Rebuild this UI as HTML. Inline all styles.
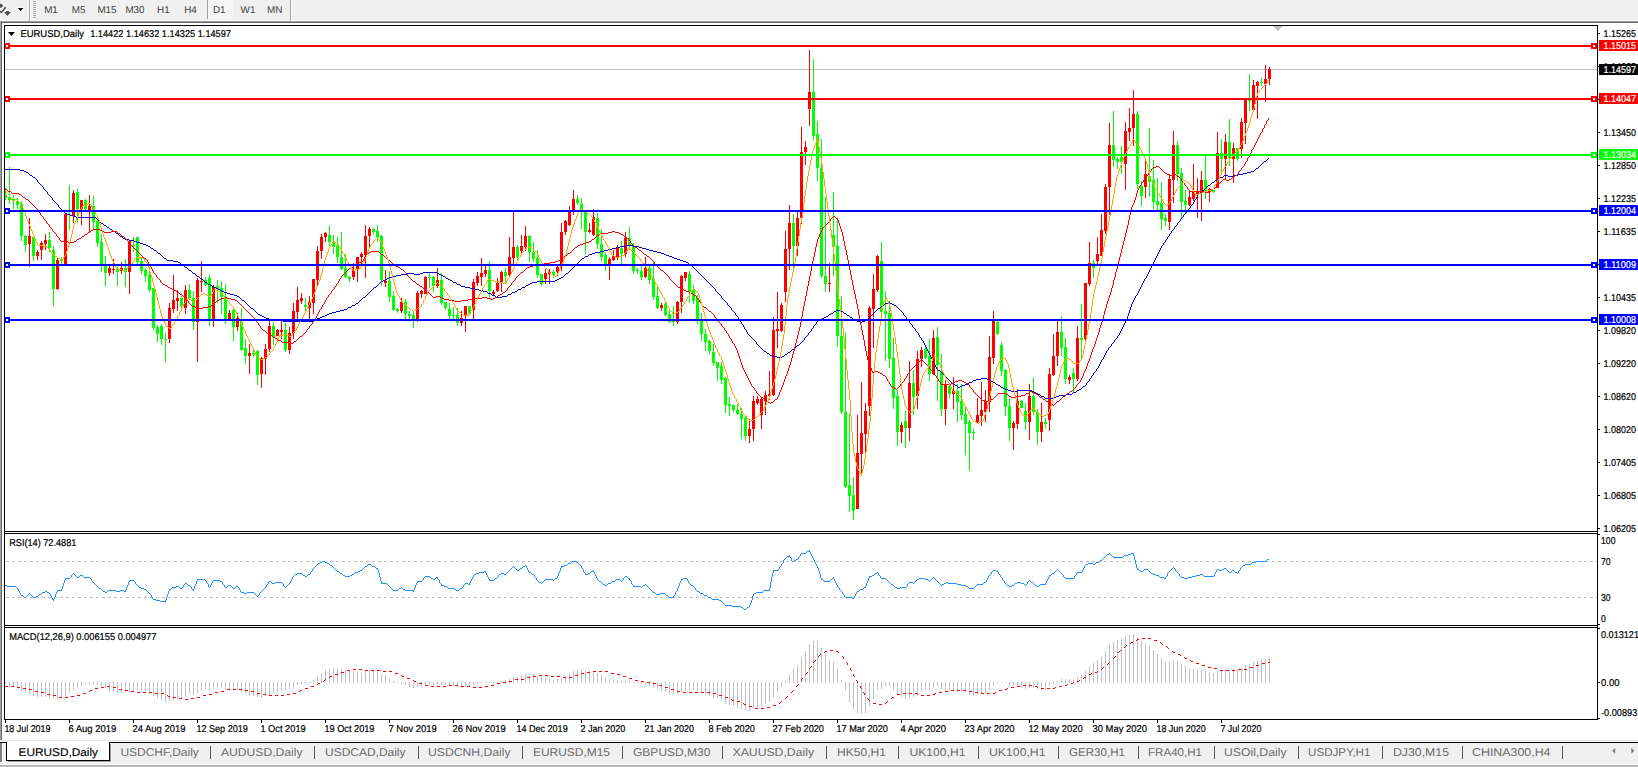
<!DOCTYPE html>
<html><head><meta charset="utf-8"><title>EURUSD,Daily</title>
<style>html,body{margin:0;padding:0;background:#fff}body{width:1638px;height:767px;position:relative;overflow:hidden;font-family:"Liberation Sans", Arial, sans-serif}text{white-space:pre;text-rendering:geometricPrecision}</style>
</head><body>
<svg width="1638" height="767" viewBox="0 0 1638 767" style="position:absolute;left:0;top:0" shape-rendering="crispEdges" font-family='"Liberation Sans", Arial, sans-serif'>
<rect x="0" y="0" width="1638" height="767" fill="#fff"/>
<rect x="0" y="0" width="1638" height="20" fill="#f0f0f0"/>
<rect x="0" y="20" width="1638" height="1" fill="#f7f7f7"/>
<rect x="0" y="21" width="1638" height="1" fill="#a0a0a0"/>
<rect x="1" y="22" width="1638" height="1" fill="#696969"/>
<rect x="0" y="22" width="1" height="719" fill="#a0a0a0"/>
<rect x="1" y="22" width="1" height="718" fill="#696969"/>
<rect x="28" y="0" width="1" height="20" fill="#f8f8f8"/><rect x="29" y="0" width="1" height="21" fill="#a0a0a0"/><rect x="30" y="0" width="1" height="20" fill="#fff"/>
<rect x="33" y="1" width="3" height="1" fill="#a8a8a8"/>
<rect x="33" y="3" width="3" height="1" fill="#a8a8a8"/>
<rect x="33" y="5" width="3" height="1" fill="#a8a8a8"/>
<rect x="33" y="7" width="3" height="1" fill="#a8a8a8"/>
<rect x="33" y="9" width="3" height="1" fill="#a8a8a8"/>
<rect x="33" y="11" width="3" height="1" fill="#a8a8a8"/>
<rect x="33" y="13" width="3" height="1" fill="#a8a8a8"/>
<rect x="33" y="15" width="3" height="1" fill="#a8a8a8"/>
<rect x="33" y="17" width="3" height="1" fill="#a8a8a8"/>
<rect x="207" y="0" width="1" height="19" fill="#a0a0a0"/>
<rect x="208" y="0" width="25" height="19" fill="#f6f6f6"/>
<rect x="290" y="0" width="1" height="21" fill="#a0a0a0"/><rect x="291" y="0" width="1" height="21" fill="#fff"/>
<path d="M17.9 8h5.4l-2.7 3z" fill="#000" stroke="#fff" stroke-width="1" paint-order="stroke" shape-rendering="auto"/>
<g fill="#4d4d4d" stroke="#fff" stroke-width="1.2" paint-order="stroke" shape-rendering="auto"><path d="M0.9 3.2L3.9 6.6H1.7V7.7H-2V6.6z"/><path d="M4 12H6.2V11H9V12H11L7.5 16z"/><path d="M5.1 6.5L6.4 7.7L1.6 13.5L-0.6 11.8L0.4 10.6L1.4 11.4z"/></g>
<rect x="5" y="69" width="1592" height="1" fill="#c0c0c0"/>
<path d="M1273 26h9.5l-4.75 5.2z" fill="#c0c0c0" shape-rendering="auto"/>
<path d="M5 188h1v12h-1zM4 195h3v3h-3zM9 167h1v37h-1zM8 197h3v3h-3zM13 195h1v14h-1zM12 199h3v2h-3zM17 198h1v11h-1zM16 201h3v4h-3zM21 201h1v40h-1zM20 204h3v32h-3zM25 235h1v17h-1zM24 236h3v9h-3zM33 237h1v24h-1zM32 237h3v19h-3zM49 232h1v20h-1zM48 240h3v8h-3zM53 246h1v60h-1zM52 250h3v39h-3zM61 257h1v7h-1zM60 259h3v2h-3zM69 185h1v45h-1zM68 210h3v2h-3zM77 189h1v34h-1zM76 192h3v17h-3zM85 199h1v11h-1zM84 200h3v9h-3zM93 196h1v34h-1zM92 206h3v16h-3zM97 220h1v27h-1zM96 221h3v22h-3zM101 234h1v38h-1zM100 242h3v22h-3zM105 256h1v30h-1zM104 266h3v7h-3zM117 266h1v20h-1zM116 269h3v3h-3zM125 259h1v28h-1zM124 268h3v4h-3zM133 237h1v15h-1zM132 245h3v1h-3zM137 237h1v27h-1zM136 237h3v25h-3zM141 258h1v16h-1zM140 261h3v10h-3zM145 268h1v14h-1zM144 270h3v6h-3zM149 267h1v25h-1zM148 275h3v15h-3zM153 288h1v42h-1zM152 288h3v40h-3zM157 325h1v17h-1zM156 327h3v7h-3zM161 324h1v21h-1zM160 326h3v13h-3zM165 333h1v29h-1zM164 339h3v1h-3zM181 296h1v12h-1zM180 298h3v8h-3zM189 284h1v16h-1zM188 290h3v8h-3zM193 291h1v39h-1zM192 298h3v24h-3zM205 277h1v9h-1zM204 280h3v5h-3zM209 274h1v52h-1zM208 278h3v41h-3zM217 280h1v23h-1zM216 286h3v3h-3zM221 281h1v33h-1zM220 288h3v9h-3zM225 284h1v40h-1zM224 298h3v22h-3zM233 307h1v34h-1zM232 310h3v17h-3zM241 308h1v43h-1zM240 322h3v28h-3zM245 339h1v25h-1zM244 348h3v8h-3zM253 350h1v7h-1zM252 353h3v2h-3zM257 350h1v35h-1zM256 351h3v24h-3zM273 322h1v23h-1zM272 326h3v11h-3zM285 323h1v29h-1zM284 330h3v20h-3zM305 298h1v15h-1zM304 305h3v2h-3zM329 226h1v20h-1zM328 235h3v7h-3zM333 235h1v19h-1zM332 242h3v5h-3zM337 237h1v26h-1zM336 246h3v11h-3zM341 232h1v38h-1zM340 257h3v12h-3zM345 254h1v24h-1zM344 268h3v9h-3zM349 276h1v6h-1zM348 277h3v2h-3zM373 228h1v7h-1zM372 229h3v3h-3zM377 225h1v17h-1zM376 231h3v6h-3zM381 235h1v51h-1zM380 236h3v44h-3zM389 271h1v31h-1zM388 281h3v16h-3zM393 291h1v20h-1zM392 296h3v14h-3zM397 308h1v5h-1zM396 309h3v2h-3zM405 299h1v20h-1zM404 302h3v12h-3zM409 311h1v11h-1zM408 314h3v2h-3zM413 312h1v16h-1zM412 315h3v4h-3zM429 272h1v16h-1zM428 277h3v1h-3zM433 276h1v16h-1zM432 277h3v9h-3zM441 273h1v32h-1zM440 280h3v23h-3zM445 302h1v8h-1zM444 302h3v6h-3zM449 303h1v16h-1zM448 309h3v7h-3zM453 307h1v12h-1zM452 315h3v1h-3zM457 308h1v18h-1zM456 315h3v8h-3zM469 306h1v8h-1zM468 306h3v8h-3zM489 261h1v38h-1zM488 270h3v21h-3zM505 268h1v15h-1zM504 272h3v4h-3zM517 245h1v16h-1zM516 247h3v10h-3zM529 235h1v27h-1zM528 236h3v16h-3zM533 242h1v20h-1zM532 252h3v7h-3zM537 250h1v28h-1zM536 258h3v17h-3zM541 274h1v12h-1zM540 274h3v10h-3zM553 270h1v8h-1zM552 272h3v3h-3zM577 195h1v10h-1zM576 199h3v4h-3zM581 198h1v31h-1zM580 204h3v6h-3zM585 212h1v42h-1zM584 212h3v20h-3zM597 213h1v36h-1zM596 218h3v26h-3zM601 229h1v32h-1zM600 244h3v13h-3zM605 252h1v19h-1zM604 255h3v11h-3zM621 241h1v23h-1zM620 248h3v6h-3zM629 227h1v23h-1zM628 238h3v8h-3zM633 243h1v31h-1zM632 246h3v25h-3zM637 268h1v6h-1zM636 270h3v1h-3zM641 266h1v14h-1zM640 271h3v6h-3zM649 266h1v18h-1zM648 268h3v12h-3zM653 262h1v38h-1zM652 279h3v18h-3zM657 287h1v22h-1zM656 296h3v12h-3zM665 302h1v14h-1zM664 304h3v11h-3zM669 310h1v13h-1zM668 314h3v8h-3zM673 306h1v20h-1zM672 321h3v1h-3zM689 271h1v32h-1zM688 274h3v18h-3zM693 285h1v19h-1zM692 289h3v12h-3zM697 295h1v29h-1zM696 298h3v21h-3zM701 313h1v28h-1zM700 319h3v15h-3zM705 329h1v22h-1zM704 334h3v8h-3zM709 340h1v14h-1zM708 341h3v10h-3zM713 344h1v22h-1zM712 352h3v11h-3zM717 362h1v19h-1zM716 362h3v6h-3zM721 362h1v22h-1zM720 366h3v14h-3zM725 377h1v36h-1zM724 378h3v27h-3zM729 397h1v19h-1zM728 404h3v2h-3zM733 405h1v7h-1zM732 405h3v5h-3zM737 404h1v11h-1zM736 410h3v4h-3zM741 408h1v31h-1zM740 414h3v5h-3zM745 416h1v25h-1zM744 418h3v18h-3zM793 214h1v54h-1zM792 223h3v23h-3zM813 59h1v81h-1zM812 92h3v44h-3zM817 121h1v60h-1zM816 134h3v34h-3zM821 139h1v139h-1zM820 168h3v108h-3zM825 197h1v95h-1zM824 276h3v8h-3zM833 192h1v84h-1zM832 235h3v12h-3zM837 220h1v127h-1zM836 246h3v90h-3zM841 296h1v118h-1zM840 336h3v76h-3zM845 332h1v156h-1zM844 412h3v75h-3zM849 414h1v98h-1zM848 485h3v11h-3zM853 477h1v43h-1zM852 495h3v16h-3zM881 242h1v71h-1zM880 261h3v51h-3zM885 291h1v70h-1zM884 311h3v3h-3zM889 301h1v67h-1zM888 313h3v46h-3zM893 338h1v71h-1zM892 358h3v40h-3zM897 390h1v56h-1zM896 396h3v36h-3zM905 411h1v37h-1zM904 421h3v7h-3zM913 370h1v45h-1zM912 383h3v14h-3zM925 347h1v12h-1zM924 349h3v9h-3zM929 339h1v42h-1zM928 356h3v18h-3zM937 327h1v74h-1zM936 337h3v28h-3zM941 354h1v62h-1zM940 372h3v37h-3zM949 384h1v14h-1zM948 386h3v8h-3zM957 384h1v38h-1zM956 391h3v11h-3zM961 384h1v36h-1zM960 401h3v14h-3zM965 406h1v49h-1zM964 414h3v10h-3zM969 420h1v51h-1zM968 422h3v11h-3zM973 429h1v11h-1zM972 432h3v1h-3zM997 321h1v14h-1zM996 322h3v12h-3zM1001 342h1v34h-1zM1000 345h3v26h-3zM1005 369h1v47h-1zM1004 370h3v37h-3zM1009 399h1v42h-1zM1008 406h3v22h-3zM1021 400h1v8h-1zM1020 401h3v7h-3zM1025 403h1v27h-1zM1024 411h3v11h-3zM1033 378h1v37h-1zM1032 396h3v16h-3zM1037 409h1v36h-1zM1036 412h3v20h-3zM1045 418h1v11h-1zM1044 422h3v2h-3zM1061 316h1v40h-1zM1060 332h3v16h-3zM1065 338h1v46h-1zM1064 347h3v32h-3zM1073 368h1v24h-1zM1072 373h3v6h-3zM1081 304h1v54h-1zM1080 338h3v2h-3zM1093 260h1v18h-1zM1092 263h3v5h-3zM1113 111h1v56h-1zM1112 145h3v15h-3zM1117 157h1v12h-1zM1116 159h3v3h-3zM1121 146h1v28h-1zM1120 157h3v5h-3zM1137 111h1v78h-1zM1136 114h3v70h-3zM1141 181h1v25h-1zM1140 186h3v10h-3zM1149 128h1v69h-1zM1148 176h3v6h-3zM1153 160h1v49h-1zM1152 180h3v22h-3zM1157 178h1v32h-1zM1156 201h3v4h-3zM1161 182h1v48h-1zM1160 203h3v16h-3zM1165 214h1v12h-1zM1164 218h3v3h-3zM1177 141h1v40h-1zM1176 145h3v29h-3zM1181 168h1v50h-1zM1180 173h3v29h-3zM1185 190h1v24h-1zM1184 201h3v4h-3zM1205 156h1v43h-1zM1204 180h3v11h-3zM1213 190h1v3h-1zM1212 190h3v2h-3zM1221 139h1v35h-1zM1220 153h3v6h-3zM1229 119h1v47h-1zM1228 142h3v16h-3zM1237 148h1v13h-1zM1236 148h3v11h-3zM1249 74h1v37h-1zM1248 100h3v1h-3zM1261 78h1v8h-1zM1260 82h3v1h-3z" fill="#00ff00"/>
<path d="M29 218h1v49h-1zM28 236h3v8h-3zM37 250h1v10h-1zM36 252h3v4h-3zM41 241h1v19h-1zM40 243h3v7h-3zM45 234h1v16h-1zM44 240h3v4h-3zM57 258h1v32h-1zM56 260h3v29h-3zM65 214h1v50h-1zM64 214h3v50h-3zM73 190h1v33h-1zM72 193h3v23h-3zM81 200h1v25h-1zM80 200h3v9h-3zM89 195h1v37h-1zM88 206h3v4h-3zM109 266h1v10h-1zM108 268h3v5h-3zM113 259h1v15h-1zM112 269h3v1h-3zM121 262h1v12h-1zM120 268h3v3h-3zM129 241h1v53h-1zM128 241h3v31h-3zM169 303h1v40h-1zM168 308h3v31h-3zM173 275h1v38h-1zM172 300h3v9h-3zM177 290h1v21h-1zM176 298h3v3h-3zM185 285h1v29h-1zM184 290h3v18h-3zM197 278h1v84h-1zM196 280h3v42h-3zM201 261h1v31h-1zM200 281h3v1h-3zM213 285h1v42h-1zM212 287h3v32h-3zM229 310h1v11h-1zM228 313h3v7h-3zM237 313h1v18h-1zM236 318h3v9h-3zM249 344h1v30h-1zM248 353h3v3h-3zM261 357h1v31h-1zM260 358h3v16h-3zM265 344h1v31h-1zM264 349h3v10h-3zM269 321h1v31h-1zM268 326h3v23h-3zM277 329h1v7h-1zM276 330h3v6h-3zM281 321h1v18h-1zM280 330h3v2h-3zM289 327h1v27h-1zM288 333h3v17h-3zM293 303h1v36h-1zM292 311h3v22h-3zM297 287h1v34h-1zM296 300h3v12h-3zM301 293h1v11h-1zM300 298h3v3h-3zM309 296h1v26h-1zM308 302h3v6h-3zM313 279h1v35h-1zM312 279h3v24h-3zM317 246h1v40h-1zM316 251h3v29h-3zM321 234h1v25h-1zM320 237h3v14h-3zM325 232h1v10h-1zM324 233h3v4h-3zM353 263h1v17h-1zM352 270h3v7h-3zM357 257h1v25h-1zM356 257h3v13h-3zM361 252h1v14h-1zM360 254h3v3h-3zM365 225h1v53h-1zM364 236h3v19h-3zM369 227h1v22h-1zM368 229h3v7h-3zM385 270h1v17h-1zM384 281h3v2h-3zM401 298h1v15h-1zM400 302h3v9h-3zM417 291h1v31h-1zM416 293h3v26h-3zM421 290h1v8h-1zM420 291h3v3h-3zM425 276h1v18h-1zM424 277h3v17h-3zM437 268h1v20h-1zM436 280h3v6h-3zM461 311h1v15h-1zM460 318h3v5h-3zM465 306h1v26h-1zM464 306h3v10h-3zM473 279h1v40h-1zM472 282h3v28h-3zM477 272h1v14h-1zM476 276h3v7h-3zM481 258h1v28h-1zM480 273h3v4h-3zM485 266h1v11h-1zM484 270h3v4h-3zM493 290h1v5h-1zM492 292h3v2h-3zM497 278h1v14h-1zM496 283h3v8h-3zM501 271h1v21h-1zM500 272h3v11h-3zM509 237h1v39h-1zM508 257h3v18h-3zM513 212h1v52h-1zM512 247h3v11h-3zM521 235h1v20h-1zM520 246h3v5h-3zM525 226h1v25h-1zM524 236h3v11h-3zM545 269h1v15h-1zM544 273h3v6h-3zM549 269h1v15h-1zM548 272h3v2h-3zM557 266h1v10h-1zM556 267h3v5h-3zM561 223h1v48h-1zM560 232h3v34h-3zM565 220h1v15h-1zM564 221h3v11h-3zM569 206h1v20h-1zM568 212h3v13h-3zM573 190h1v25h-1zM572 199h3v12h-3zM589 223h1v10h-1zM588 230h3v2h-3zM593 209h1v27h-1zM592 217h3v18h-3zM609 257h1v23h-1zM608 259h3v5h-3zM613 250h1v11h-1zM612 256h3v4h-3zM617 245h1v15h-1zM616 248h3v9h-3zM625 232h1v25h-1zM624 238h3v16h-3zM645 257h1v21h-1zM644 268h3v9h-3zM661 303h1v8h-1zM660 305h3v3h-3zM677 301h1v23h-1zM676 302h3v20h-3zM681 275h1v38h-1zM680 276h3v26h-3zM685 272h1v9h-1zM684 272h3v6h-3zM749 419h1v24h-1zM748 429h3v7h-3zM753 396h1v45h-1zM752 401h3v28h-3zM757 396h1v9h-1zM756 399h3v4h-3zM761 397h1v32h-1zM760 399h3v16h-3zM765 391h1v24h-1zM764 395h3v6h-3zM769 371h1v29h-1zM768 394h3v2h-3zM773 317h1v79h-1zM772 330h3v65h-3zM777 292h1v56h-1zM776 329h3v2h-3zM781 303h1v29h-1zM780 305h3v26h-3zM785 231h1v71h-1zM784 249h3v43h-3zM789 205h1v65h-1zM788 223h3v26h-3zM797 212h1v44h-1zM796 218h3v28h-3zM801 127h1v97h-1zM800 152h3v66h-3zM805 141h1v24h-1zM804 147h3v5h-3zM809 50h1v76h-1zM808 92h3v17h-3zM829 263h1v29h-1zM828 283h3v1h-3zM857 415h1v94h-1zM856 453h3v56h-3zM861 382h1v94h-1zM860 433h3v21h-3zM865 403h1v53h-1zM864 411h3v23h-3zM869 306h1v110h-1zM868 308h3v98h-3zM873 274h1v74h-1zM872 289h3v20h-3zM877 255h1v37h-1zM876 256h3v34h-3zM901 422h1v21h-1zM900 425h3v7h-3zM909 361h1v80h-1zM908 383h3v45h-3zM917 351h1v58h-1zM916 359h3v37h-3zM921 347h1v20h-1zM920 350h3v9h-3zM933 330h1v45h-1zM932 338h3v36h-3zM945 380h1v45h-1zM944 385h3v24h-3zM953 377h1v32h-1zM952 391h3v3h-3zM977 398h1v26h-1zM976 415h3v7h-3zM981 382h1v44h-1zM980 410h3v6h-3zM985 390h1v32h-1zM984 401h3v11h-3zM989 336h1v76h-1zM988 357h3v45h-3zM993 311h1v53h-1zM992 321h3v37h-3zM1013 421h1v29h-1zM1012 423h3v5h-3zM1017 389h1v40h-1zM1016 401h3v23h-3zM1029 384h1v56h-1zM1028 396h3v26h-3zM1041 403h1v39h-1zM1040 422h3v10h-3zM1049 368h1v63h-1zM1048 374h3v46h-3zM1053 334h1v42h-1zM1052 356h3v19h-3zM1057 321h1v45h-1zM1056 332h3v24h-3zM1069 375h1v9h-1zM1068 377h3v3h-3zM1077 326h1v55h-1zM1076 338h3v41h-3zM1085 283h1v57h-1zM1084 283h3v56h-3zM1089 242h1v44h-1zM1088 263h3v21h-3zM1097 237h1v29h-1zM1096 254h3v7h-3zM1101 214h1v42h-1zM1100 230h3v26h-3zM1105 184h1v50h-1zM1104 187h3v44h-3zM1109 123h1v92h-1zM1108 145h3v42h-3zM1125 122h1v68h-1zM1124 131h3v33h-3zM1129 108h1v33h-1zM1128 128h3v4h-3zM1133 90h1v56h-1zM1132 114h3v14h-3zM1145 160h1v38h-1zM1144 174h3v13h-3zM1169 174h1v56h-1zM1168 179h3v43h-3zM1173 131h1v72h-1zM1172 145h3v35h-3zM1189 191h1v15h-1zM1188 197h3v8h-3zM1193 164h1v37h-1zM1192 191h3v8h-3zM1197 178h1v40h-1zM1196 191h3v3h-3zM1201 171h1v50h-1zM1200 180h3v12h-3zM1209 188h1v14h-1zM1208 189h3v3h-3zM1217 132h1v56h-1zM1216 153h3v35h-3zM1225 134h1v45h-1zM1224 142h3v17h-3zM1233 143h1v40h-1zM1232 148h3v11h-3zM1241 118h1v40h-1zM1240 122h3v27h-3zM1245 99h1v45h-1zM1244 99h3v24h-3zM1253 80h1v30h-1zM1252 85h3v25h-3zM1257 81h1v38h-1zM1256 82h3v4h-3zM1265 65h1v37h-1zM1264 79h3v5h-3zM1269 67h1v18h-1zM1268 69h3v10h-3z" fill="#ff0000"/>
<path d="M1155 258v2h1v-2zM1187 210v2h1v-2zM1127 316v3h1v-3zM906 317v2h1v-2zM924 343v2h1v-2zM1086 383v2h1v-2zM1131 304v3h1v-3zM58 205v2h1v-2zM935 365v2h1v-2zM1121 329v2h1v-2zM43 187v2h1v-2zM1130 307v3h1v-3zM1169 234v2h1v-2zM727 303v2h1v-2zM741 322v2h1v-2zM912 325v2h1v-2zM1105 353v2h1v-2zM1120 331v2h1v-2zM933 361v2h1v-2zM934 363v2h1v-2zM1128 313v3h1v-3zM1140 287v2h1v-2zM1108 348v2h1v-2zM1104 355v2h1v-2zM808 333v2h1v-2zM1100 362v2h1v-2zM1139 289v2h1v-2zM1183 215v2h1v-2zM743 325v2h1v-2zM1152 264v2h1v-2zM1135 296v2h1v-2zM1180 219v2h1v-2zM1103 357v2h1v-2zM932 359v2h1v-2zM1171 231v2h1v-2zM721 296v2h1v-2zM1099 364v2h1v-2zM1151 266v2h1v-2zM1134 298v2h1v-2zM1174 227v2h1v-2zM1147 274v2h1v-2zM47 192v2h1v-2zM731 308v2h1v-2zM1098 366v2h1v-2zM756 342v2h1v-2zM1089 379v2h1v-2zM1197 195v2h1v-2zM926 347v2h1v-2zM813 326v2h1v-2zM1156 256v2h1v-2zM915 329v2h1v-2zM918 333v2h1v-2zM1196 197v2h1v-2zM1123 325v2h1v-2zM925 345v2h1v-2zM1163 243v2h1v-2zM1122 327v2h1v-2zM1159 250v2h1v-2zM1114 340v2h1v-2zM1117 336v2h1v-2zM1129 310v3h1v-3zM744 327v2h1v-2zM52 198v2h1v-2zM936 367v2h1v-2zM928 351v2h1v-2zM1119 333v2h1v-2zM746 330v2h1v-2zM1146 276v2h1v-2zM1142 283v2h1v-2zM1138 291v2h1v-2zM927 349v2h1v-2zM930 355v2h1v-2zM1141 285v2h1v-2zM1137 293v2h1v-2zM919 335v2h1v-2zM1133 300v2h1v-2zM37 180v2h1v-2zM1132 302v2h1v-2zM1167 237v2h1v-2zM921 338v2h1v-2zM1106 351v2h1v-2zM1190 206v2h1v-2zM1158 252v2h1v-2zM1154 260v2h1v-2zM735 313v2h1v-2zM738 317v2h1v-2zM1126 319v2h1v-2zM909 321v2h1v-2zM923 341v2h1v-2zM1101 360v2h1v-2zM1153 262v2h1v-2zM1149 270v2h1v-2zM1093 373v2h1v-2zM1177 223v2h1v-2zM1096 369v2h1v-2zM1148 272v2h1v-2zM929 353v2h1v-2zM1144 279v2h1v-2zM1111 344v2h1v-2zM903 313v2h1v-2zM747 332v2h1v-2zM811 329v2h1v-2zM1194 200v2h1v-2zM931 357v2h1v-2zM1150 268v2h1v-2zM1193 202v2h1v-2zM715 289v2h1v-2zM1124 323v2h1v-2zM1161 246v2h1v-2zM816 322v2h1v-2zM1160 248v2h1v-2zM1091 376v2h1v-2zM804 338v2h1v-2zM739 319v2h1v-2zM1125 321v2h1v-2zM1165 240v2h1v-2zM1157 254v2h1v-2zM1143 281v2h1v-2zM30 175h2v1h-2zM1224 175h4v1h-4zM1233 175h5v1h-5zM957 386h1v1h-1zM960 386h2v1h-2zM1000 386h1v1h-1zM1083 386h2v1h-2zM242 300h2v1h-2zM360 300h1v1h-1zM724 300h1v1h-1zM958 387h2v1h-2zM1001 387h2v1h-2zM1082 387h1v1h-1zM227 293h3v1h-3zM368 293h1v1h-1zM488 293h3v1h-3zM511 293h1v1h-1zM718 293h1v1h-1zM5 169h15v1h-15zM1255 169h1v1h-1zM244 301h1v1h-1zM359 301h1v1h-1zM725 301h1v1h-1zM254 310h1v1h-1zM340 310h4v1h-4zM732 310h1v1h-1zM836 310h4v1h-4zM876 310h1v1h-1zM900 310h1v1h-1zM246 303h1v1h-1zM356 303h2v1h-2zM885 303h3v1h-3zM890 303h2v1h-2zM755 341h1v1h-1zM802 341h1v1h-1zM210 285h2v1h-2zM377 285h1v1h-1zM460 285h1v1h-1zM526 285h2v1h-2zM711 285h1v1h-1zM777 357h5v1h-5zM214 287h2v1h-2zM374 287h2v1h-2zM465 287h5v1h-5zM522 287h3v1h-3zM713 287h1v1h-1zM220 290h2v1h-2zM371 290h1v1h-1zM479 290h4v1h-4zM517 290h1v1h-1zM949 380h1v1h-1zM973 380h3v1h-3zM989 380h2v1h-2zM1008 390h3v1h-3zM1017 390h15v1h-15zM1077 390h2v1h-2zM204 281h1v1h-1zM381 281h2v1h-2zM452 281h1v1h-1zM537 281h18v1h-18zM707 281h1v1h-1zM193 273h2v1h-2zM407 273h7v1h-7zM420 273h3v1h-3zM437 273h2v1h-2zM566 273h2v1h-2zM699 273h1v1h-1zM32 176h1v1h-1zM1223 176h1v1h-1zM1228 176h5v1h-5zM269 319h4v1h-4zM315 319h2v1h-2zM820 319h2v1h-2zM853 319h3v1h-3zM867 319h1v1h-1zM907 319h1v1h-1zM208 284h2v1h-2zM378 284h1v1h-1zM457 284h3v1h-3zM528 284h2v1h-2zM710 284h1v1h-1zM158 253h2v1h-2zM592 253h3v1h-3zM661 253h3v1h-3zM40 184h1v1h-1zM1210 184h1v1h-1zM106 226h1v1h-1zM1175 226h1v1h-1zM151 248h2v1h-2zM612 248h4v1h-4zM642 248h4v1h-4zM273 320h10v1h-10zM313 320h2v1h-2zM818 320h2v1h-2zM856 320h1v1h-1zM865 320h2v1h-2zM908 320h1v1h-1zM192 272h1v1h-1zM423 272h14v1h-14zM568 272h1v1h-1zM698 272h1v1h-1zM222 291h2v1h-2zM370 291h1v1h-1zM483 291h4v1h-4zM515 291h2v1h-2zM716 291h1v1h-1zM952 383h2v1h-2zM968 383h1v1h-1zM995 383h1v1h-1zM197 276h2v1h-2zM392 276h4v1h-4zM443 276h2v1h-2zM563 276h1v1h-1zM702 276h1v1h-1zM195 274h1v1h-1zM401 274h6v1h-6zM414 274h6v1h-6zM439 274h2v1h-2zM565 274h1v1h-1zM700 274h1v1h-1zM163 257h1v1h-1zM584 257h1v1h-1zM672 257h2v1h-2zM241 299h1v1h-1zM361 299h1v1h-1zM723 299h1v1h-1zM1045 398h9v1h-9zM125 239h4v1h-4zM1166 239h1v1h-1zM110 229h2v1h-2zM1173 229h1v1h-1zM283 321h30v1h-30zM740 321h1v1h-1zM817 321h1v1h-1zM857 321h3v1h-3zM862 321h3v1h-3zM153 249h1v1h-1zM608 249h4v1h-4zM646 249h3v1h-3zM257 313h1v1h-1zM329 313h3v1h-3zM831 313h2v1h-2zM844 313h2v1h-2zM873 313h1v1h-1zM760 347h1v1h-1zM795 347h1v1h-1zM1109 347h1v1h-1zM941 372h1v1h-1zM1094 372h1v1h-1zM207 283h1v1h-1zM379 283h1v1h-1zM456 283h1v1h-1zM530 283h2v1h-2zM709 283h1v1h-1zM154 250h2v1h-2zM604 250h4v1h-4zM649 250h4v1h-4zM1038 394h2v1h-2zM1066 394h6v1h-6zM164 258h2v1h-2zM582 258h2v1h-2zM674 258h3v1h-3zM200 278h1v1h-1zM387 278h2v1h-2zM446 278h2v1h-2zM559 278h2v1h-2zM704 278h1v1h-1zM1145 278h1v1h-1zM166 259h1v1h-1zM581 259h1v1h-1zM677 259h3v1h-3zM264 317h2v1h-2zM320 317h2v1h-2zM824 317h2v1h-2zM850 317h2v1h-2zM869 317h1v1h-1zM70 215h3v1h-3zM146 245h2v1h-2zM626 245h7v1h-7zM1162 245h1v1h-1zM148 246h2v1h-2zM620 246h6v1h-6zM633 246h6v1h-6zM181 264h1v1h-1zM576 264h1v1h-1zM689 264h2v1h-2zM764 351h2v1h-2zM790 351h1v1h-1zM167 260h6v1h-6zM580 260h1v1h-1zM680 260h3v1h-3zM955 385h2v1h-2zM962 385h3v1h-3zM998 385h2v1h-2zM1085 385h1v1h-1zM205 282h2v1h-2zM380 282h1v1h-1zM453 282h3v1h-3zM532 282h5v1h-5zM708 282h1v1h-1zM1044 397h1v1h-1zM1054 397h2v1h-2zM1263 162h1v1h-1zM173 261h5v1h-5zM579 261h1v1h-1zM683 261h3v1h-3zM234 295h3v1h-3zM366 295h1v1h-1zM492 295h3v1h-3zM507 295h1v1h-1zM720 295h1v1h-1zM1136 295h1v1h-1zM237 296h2v1h-2zM365 296h1v1h-1zM495 296h1v1h-1zM502 296h5v1h-5zM248 305h1v1h-1zM352 305h3v1h-3zM728 305h1v1h-1zM882 305h2v1h-2zM894 305h2v1h-2zM948 379h1v1h-1zM976 379h5v1h-5zM987 379h2v1h-2zM752 338h1v1h-1zM1116 338h1v1h-1zM218 289h2v1h-2zM372 289h1v1h-1zM475 289h4v1h-4zM518 289h3v1h-3zM772 356h5v1h-5zM782 356h2v1h-2zM758 345h1v1h-1zM797 345h2v1h-2zM256 312h1v1h-1zM332 312h4v1h-4zM734 312h1v1h-1zM833 312h1v1h-1zM843 312h1v1h-1zM874 312h1v1h-1zM902 312h1v1h-1zM767 353h2v1h-2zM787 353h1v1h-1zM26 172h2v1h-2zM1247 172h4v1h-4zM761 348h1v1h-1zM794 348h1v1h-1zM161 255h1v1h-1zM588 255h1v1h-1zM666 255h3v1h-3zM189 270h2v1h-2zM570 270h1v1h-1zM696 270h1v1h-1zM250 307h1v1h-1zM348 307h3v1h-3zM730 307h1v1h-1zM880 307h1v1h-1zM897 307h1v1h-1zM162 256h1v1h-1zM585 256h3v1h-3zM669 256h3v1h-3zM60 208h1v1h-1zM1189 208h1v1h-1zM191 271h1v1h-1zM569 271h1v1h-1zM697 271h1v1h-1zM150 247h1v1h-1zM616 247h4v1h-4zM639 247h3v1h-3zM156 251h1v1h-1zM600 251h4v1h-4zM653 251h4v1h-4zM762 349h1v1h-1zM792 349h2v1h-2zM249 306h1v1h-1zM351 306h1v1h-1zM729 306h1v1h-1zM881 306h1v1h-1zM896 306h1v1h-1zM76 217h20v1h-20zM1182 217h1v1h-1zM41 185h1v1h-1zM1208 185h2v1h-2zM201 279h2v1h-2zM385 279h2v1h-2zM448 279h2v1h-2zM557 279h2v1h-2zM705 279h1v1h-1zM157 252h1v1h-1zM595 252h5v1h-5zM657 252h4v1h-4zM45 190h1v1h-1zM1202 190h2v1h-2zM134 241h3v1h-3zM754 340h1v1h-1zM803 340h1v1h-1zM922 340h1v1h-1zM910 323h1v1h-1zM212 286h2v1h-2zM376 286h1v1h-1zM461 286h4v1h-4zM525 286h1v1h-1zM712 286h1v1h-1zM1011 391h6v1h-6zM1032 391h2v1h-2zM1076 391h1v1h-1zM860 322h2v1h-2zM1191 205h1v1h-1zM143 244h3v1h-3zM64 212h1v1h-1zM1186 212h1v1h-1zM230 294h4v1h-4zM367 294h1v1h-1zM491 294h1v1h-1zM508 294h3v1h-3zM719 294h1v1h-1zM137 242h3v1h-3zM1164 242h1v1h-1zM199 277h1v1h-1zM389 277h3v1h-3zM445 277h1v1h-1zM561 277h2v1h-2zM703 277h1v1h-1zM1256 168h2v1h-2zM216 288h2v1h-2zM373 288h1v1h-1zM470 288h5v1h-5zM521 288h1v1h-1zM714 288h1v1h-1zM940 371h1v1h-1zM1095 371h1v1h-1zM947 378h1v1h-1zM981 378h6v1h-6zM1090 378h1v1h-1zM255 311h1v1h-1zM336 311h4v1h-4zM733 311h1v1h-1zM834 311h2v1h-2zM840 311h3v1h-3zM875 311h1v1h-1zM901 311h1v1h-1zM185 267h2v1h-2zM573 267h1v1h-1zM693 267h1v1h-1zM951 382h1v1h-1zM969 382h3v1h-3zM993 382h2v1h-2zM1087 382h1v1h-1zM258 314h2v1h-2zM327 314h2v1h-2zM829 314h2v1h-2zM846 314h1v1h-1zM872 314h1v1h-1zM266 318h3v1h-3zM317 318h3v1h-3zM822 318h2v1h-2zM852 318h1v1h-1zM868 318h1v1h-1zM33 177h2v1h-2zM1220 177h3v1h-3zM810 331h1v1h-1zM916 331h1v1h-1zM36 179h1v1h-1zM1217 179h2v1h-2zM28 173h1v1h-1zM1243 173h4v1h-4zM1262 163h1v1h-1zM129 240h5v1h-5zM203 280h1v1h-1zM383 280h2v1h-2zM450 280h2v1h-2zM555 280h2v1h-2zM706 280h1v1h-1zM954 384h1v1h-1zM965 384h3v1h-3zM996 384h2v1h-2zM67 214h3v1h-3zM1184 214h1v1h-1zM46 191h1v1h-1zM1201 191h1v1h-1zM160 254h1v1h-1zM589 254h3v1h-3zM664 254h2v1h-2zM1003 388h2v1h-2zM1081 388h1v1h-1zM1005 389h3v1h-3zM1079 389h2v1h-2zM44 189h1v1h-1zM1204 189h1v1h-1zM239 297h1v1h-1zM363 297h2v1h-2zM496 297h6v1h-6zM251 308h2v1h-2zM347 308h1v1h-1zM878 308h2v1h-2zM898 308h1v1h-1zM247 304h1v1h-1zM355 304h1v1h-1zM884 304h1v1h-1zM892 304h2v1h-2zM240 298h1v1h-1zM362 298h1v1h-1zM722 298h1v1h-1zM812 328h1v1h-1zM914 328h1v1h-1zM759 346h1v1h-1zM796 346h1v1h-1zM1110 346h1v1h-1zM770 355h2v1h-2zM784 355h1v1h-1zM260 315h2v1h-2zM325 315h2v1h-2zM736 315h1v1h-1zM828 315h1v1h-1zM847 315h2v1h-2zM871 315h1v1h-1zM904 315h1v1h-1zM39 183h1v1h-1zM1211 183h1v1h-1zM104 225h2v1h-2zM1176 225h1v1h-1zM180 263h1v1h-1zM577 263h1v1h-1zM688 263h1v1h-1zM950 381h1v1h-1zM972 381h1v1h-1zM991 381h2v1h-2zM1088 381h1v1h-1zM749 335h1v1h-1zM807 335h1v1h-1zM1118 335h1v1h-1zM245 302h1v1h-1zM358 302h1v1h-1zM726 302h1v1h-1zM888 302h2v1h-2zM1034 392h2v1h-2zM1073 392h3v1h-3zM1040 395h1v1h-1zM1059 395h7v1h-7zM224 292h3v1h-3zM369 292h1v1h-1zM487 292h1v1h-1zM512 292h3v1h-3zM717 292h1v1h-1zM188 269h1v1h-1zM571 269h1v1h-1zM695 269h1v1h-1zM116 233h2v1h-2zM1170 233h1v1h-1zM262 316h2v1h-2zM322 316h3v1h-3zM737 316h1v1h-1zM826 316h2v1h-2zM849 316h1v1h-1zM870 316h1v1h-1zM905 316h1v1h-1zM1261 164h1v1h-1zM196 275h1v1h-1zM396 275h5v1h-5zM441 275h2v1h-2zM564 275h1v1h-1zM701 275h1v1h-1zM65 213h2v1h-2zM1185 213h1v1h-1zM140 243h3v1h-3zM942 373h1v1h-1zM769 354h1v1h-1zM785 354h2v1h-2zM49 195h1v1h-1zM50 196h1v1h-1zM1267 159h1v1h-1zM937 369h1v1h-1zM750 336h1v1h-1zM806 336h1v1h-1zM801 342h1v1h-1zM1113 342h1v1h-1zM184 266h1v1h-1zM574 266h1v1h-1zM692 266h1v1h-1zM57 204h1v1h-1zM1192 204h1v1h-1zM253 309h1v1h-1zM344 309h3v1h-3zM877 309h1v1h-1zM899 309h1v1h-1zM178 262h2v1h-2zM578 262h1v1h-1zM686 262h2v1h-2zM29 174h1v1h-1zM1238 174h5v1h-5zM120 236h2v1h-2zM1168 236h1v1h-1zM24 171h2v1h-2zM1251 171h3v1h-3zM1260 165h1v1h-1zM742 324h1v1h-1zM815 324h1v1h-1zM911 324h1v1h-1zM913 327h1v1h-1zM763 350h1v1h-1zM791 350h1v1h-1zM1107 350h1v1h-1zM54 201h1v1h-1zM944 375h1v1h-1zM1092 375h1v1h-1zM1041 396h3v1h-3zM1056 396h3v1h-3zM751 337h1v1h-1zM805 337h1v1h-1zM920 337h1v1h-1zM1200 192h1v1h-1zM113 231h2v1h-2zM800 343h1v1h-1zM1112 343h1v1h-1zM1036 393h2v1h-2zM1072 393h1v1h-1zM42 186h1v1h-1zM1207 186h1v1h-1zM20 170h4v1h-4zM1254 170h1v1h-1zM56 203h1v1h-1zM107 227h2v1h-2zM99 221h1v1h-1zM1179 221h1v1h-1zM1215 180h2v1h-2zM187 268h1v1h-1zM572 268h1v1h-1zM694 268h1v1h-1zM48 194h1v1h-1zM1198 194h1v1h-1zM809 332h1v1h-1zM917 332h1v1h-1zM1268 158h1v1h-1zM1259 166h1v1h-1zM1199 193h1v1h-1zM100 222h1v1h-1zM1178 222h1v1h-1zM73 216h3v1h-3zM766 352h1v1h-1zM788 352h2v1h-2zM745 329h1v1h-1zM112 230h1v1h-1zM1172 230h1v1h-1zM53 200h1v1h-1zM115 232h1v1h-1zM97 219h1v1h-1zM1214 181h1v1h-1zM943 374h1v1h-1zM938 370h2v1h-2zM55 202h1v1h-1zM814 325h1v1h-1zM35 178h1v1h-1zM1219 178h1v1h-1zM945 376h1v1h-1zM946 377h1v1h-1zM748 334h1v1h-1zM61 209h1v1h-1zM1188 209h1v1h-1zM182 265h2v1h-2zM575 265h1v1h-1zM691 265h1v1h-1zM38 182h1v1h-1zM1212 182h2v1h-2zM63 211h1v1h-1zM123 238h2v1h-2zM1264 161h2v1h-2zM753 339h1v1h-1zM1115 339h1v1h-1zM118 234h1v1h-1zM119 235h1v1h-1zM757 344h1v1h-1zM799 344h1v1h-1zM1102 359h1v1h-1zM1206 187h1v1h-1zM109 228h1v1h-1zM1097 368h1v1h-1zM101 223h2v1h-2zM96 218h1v1h-1zM1181 218h1v1h-1zM1258 167h1v1h-1zM59 207h1v1h-1zM1195 199h1v1h-1zM51 197h1v1h-1zM1205 188h1v1h-1zM62 210h1v1h-1zM103 224h1v1h-1zM122 237h1v1h-1zM98 220h1v1h-1zM1266 160h1v1h-1z" fill="#0000cd"/>
<path d="M844 241v5h1v-5zM813 257v4h1v-4zM731 339v2h1v-2zM728 334v2h1v-2zM792 354v4h1v-4zM1125 233v4h1v-4zM1100 325v3h1v-3zM364 257v2h1v-2zM1116 269v3h1v-3zM817 239v4h1v-4zM837 218v2h1v-2zM779 392v3h1v-3zM1187 187v2h1v-2zM850 270v5h1v-5zM1257 139v2h1v-2zM860 320v5h1v-5zM1087 363v3h1v-3zM1129 215v5h1v-5zM1120 253v4h1v-4zM807 286v5h1v-5zM907 374v2h1v-2zM737 350v3h1v-3zM312 322v2h1v-2zM1124 237v4h1v-4zM866 351v5h1v-5zM1115 272v5h1v-5zM1099 328v4h1v-4zM515 278v2h1v-2zM900 384v2h1v-2zM803 306v5h1v-5zM336 284v2h1v-2zM46 221v2h1v-2zM843 236v5h1v-5zM853 285v5h1v-5zM726 331v2h1v-2zM729 336v2h1v-2zM863 335v5h1v-5zM1110 292v3h1v-3zM1090 355v3h1v-3zM933 372v2h1v-2zM811 266v5h1v-5zM1107 301v3h1v-3zM1098 332v3h1v-3zM859 315v5h1v-5zM743 368v2h1v-2zM790 362v3h1v-3zM869 363v3h1v-3zM802 311v6h1v-6zM407 274v2h1v-2zM815 247v5h1v-5zM794 347v4h1v-4zM1127 225v4h1v-4zM1102 319v3h1v-3zM845 246v4h1v-4zM805 296v5h1v-5zM865 346v5h1v-5zM856 299v5h1v-5zM780 390v2h1v-2zM858 309v6h1v-6zM1089 358v3h1v-3zM797 335v4h1v-4zM363 259v2h1v-2zM789 365v3h1v-3zM1096 338v3h1v-3zM1122 245v4h1v-4zM37 209v2h1v-2zM160 280v2h1v-2zM1113 280v5h1v-5zM654 262v2h1v-2zM814 252v5h1v-5zM842 232v4h1v-4zM801 317v5h1v-5zM1135 197v3h1v-3zM906 376v2h1v-2zM1101 322v3h1v-3zM1117 264v5h1v-5zM738 353v3h1v-3zM936 376v2h1v-2zM848 260v5h1v-5zM739 356v3h1v-3zM1262 129v3h1v-3zM742 365v3h1v-3zM868 360v3h1v-3zM1258 137v2h1v-2zM787 371v3h1v-3zM1105 308v3h1v-3zM969 385v2h1v-2zM909 371v2h1v-2zM1254 145v2h1v-2zM854 290v4h1v-4zM864 340v6h1v-6zM1134 200v3h1v-3zM341 276v2h1v-2zM840 226v3h1v-3zM49 225v2h1v-2zM1138 188v2h1v-2zM786 374v2h1v-2zM1104 311v4h1v-4zM1253 147v2h1v-2zM1083 373v3h1v-3zM812 261v5h1v-5zM799 327v4h1v-4zM1249 154v3h1v-3zM325 300v2h1v-2zM1141 183v2h1v-2zM321 307v2h1v-2zM751 384v2h1v-2zM1103 315v4h1v-4zM1137 190v3h1v-3zM507 288v2h1v-2zM331 291v2h1v-2zM1082 376v2h1v-2zM820 232v2h1v-2zM839 223v3h1v-3zM52 229v2h1v-2zM1136 193v4h1v-4zM316 316v2h1v-2zM819 234v3h1v-3zM810 271v5h1v-5zM788 368v3h1v-3zM258 323v2h1v-2zM156 275v2h1v-2zM973 390v2h1v-2zM714 315v2h1v-2zM1238 172v2h1v-2zM1093 347v2h1v-2zM806 291v5h1v-5zM732 341v2h1v-2zM1131 207v4h1v-4zM851 275v5h1v-5zM796 339v4h1v-4zM871 368v3h1v-3zM306 330v2h1v-2zM1266 121v3h1v-3zM800 322v5h1v-5zM904 379v2h1v-2zM1092 349v3h1v-3zM791 358v4h1v-4zM256 320v2h1v-2zM756 391v2h1v-2zM734 344v2h1v-2zM938 379v2h1v-2zM744 370v2h1v-2zM870 366v2h1v-2zM511 283v2h1v-2zM630 241v2h1v-2zM56 234v2h1v-2zM846 250v5h1v-5zM781 387v3h1v-3zM798 331v4h1v-4zM1106 304v4h1v-4zM852 280v5h1v-5zM1086 366v3h1v-3zM1128 220v5h1v-5zM696 296v2h1v-2zM319 310v2h1v-2zM718 320v2h1v-2zM793 351v3h1v-3zM940 382v2h1v-2zM1181 179v2h1v-2zM1151 169v2h1v-2zM338 281v2h1v-2zM886 377v2h1v-2zM861 325v5h1v-5zM334 287v2h1v-2zM1126 229v4h1v-4zM847 255v5h1v-5zM857 304v5h1v-5zM808 281v5h1v-5zM1264 125v3h1v-3zM782 385v2h1v-2zM324 302v2h1v-2zM147 260v2h1v-2zM1244 164v2h1v-2zM816 243v4h1v-4zM785 376v3h1v-3zM862 330v5h1v-5zM754 388v2h1v-2zM1119 257v4h1v-4zM315 318v2h1v-2zM1123 241v4h1v-4zM149 264v2h1v-2zM890 384v2h1v-2zM40 213v2h1v-2zM1114 277v3h1v-3zM746 374v2h1v-2zM872 371v2h1v-2zM724 328v2h1v-2zM784 379v3h1v-3zM1109 295v3h1v-3zM1130 211v4h1v-4zM260 326v2h1v-2zM809 276v5h1v-5zM830 219v2h1v-2zM841 229v3h1v-3zM1091 352v3h1v-3zM735 346v2h1v-2zM1108 298v3h1v-3zM804 301v5h1v-5zM867 356v4h1v-4zM748 378v2h1v-2zM745 372v2h1v-2zM1095 341v3h1v-3zM1112 285v3h1v-3zM1260 133v2h1v-2zM309 326v2h1v-2zM778 395v2h1v-2zM188 301v2h1v-2zM1256 141v2h1v-2zM1094 344v3h1v-3zM1111 288v4h1v-4zM849 265v5h1v-5zM1259 135v2h1v-2zM339 279v2h1v-2zM777 397v2h1v-2zM1085 369v2h1v-2zM1255 143v2h1v-2zM59 238v2h1v-2zM855 294v5h1v-5zM1251 150v3h1v-3zM1143 180v2h1v-2zM1139 186v2h1v-2zM887 379v2h1v-2zM1084 371v2h1v-2zM699 300v2h1v-2zM669 277v2h1v-2zM721 324v2h1v-2zM822 228v2h1v-2zM326 298v2h1v-2zM366 254v2h1v-2zM1076 385v2h1v-2zM1184 183v2h1v-2zM322 305v2h1v-2zM1121 249v4h1v-4zM795 343v4h1v-4zM318 312v2h1v-2zM821 230v2h1v-2zM741 362v3h1v-3zM148 262v2h1v-2zM151 267v2h1v-2zM889 382v2h1v-2zM701 303v2h1v-2zM1133 203v2h1v-2zM1145 177v2h1v-2zM1148 173v2h1v-2zM736 348v2h1v-2zM328 295v2h1v-2zM1132 205v2h1v-2zM128 241v2h1v-2zM740 359v3h1v-3zM153 271v2h1v-2zM747 376v2h1v-2zM750 382v2h1v-2zM1118 261v3h1v-3zM1081 378v2h1v-2zM838 220v3h1v-3zM1247 158v3h1v-3zM1097 335v3h1v-3zM783 382v3h1v-3zM1080 380v2h1v-2zM818 237v2h1v-2zM1088 361v2h1v-2zM43 217v2h1v-2zM1268 118v2h1v-2zM929 367v2h1v-2zM1245 162v2h1v-2zM152 269v2h1v-2zM1241 168v2h1v-2zM749 380v2h1v-2zM317 314v2h1v-2zM154 273h1v1h-1zM344 273h1v1h-1zM406 273h1v1h-1zM520 273h1v1h-1zM665 273h1v1h-1zM215 302h1v1h-1zM238 302h1v1h-1zM700 302h1v1h-1zM1150 171h1v1h-1zM1163 171h1v1h-1zM1239 171h1v1h-1zM359 262h3v1h-3zM391 262h1v1h-1zM550 262h5v1h-5zM764 399h1v1h-1zM775 399h2v1h-2zM981 399h1v1h-1zM991 399h2v1h-2zM1043 399h2v1h-2zM1060 399h1v1h-1zM313 321h1v1h-1zM138 252h1v1h-1zM369 252h2v1h-2zM379 252h1v1h-1zM570 252h1v1h-1zM642 252h1v1h-1zM187 300h1v1h-1zM217 300h2v1h-2zM235 300h2v1h-2zM449 300h5v1h-5zM461 300h7v1h-7zM282 342h6v1h-6zM293 342h1v1h-1zM910 370h1v1h-1zM931 370h1v1h-1zM1179 177h1v1h-1zM1232 177h2v1h-2zM8 191h3v1h-3zM1190 191h15v1h-15zM1209 191h1v1h-1zM920 360h1v1h-1zM922 360h1v1h-1zM901 383h1v1h-1zM951 383h2v1h-2zM966 383h2v1h-2zM1078 383h1v1h-1zM57 236h1v1h-1zM82 236h2v1h-2zM122 236h2v1h-2zM596 236h1v1h-1zM624 236h1v1h-1zM248 312h1v1h-1zM711 312h1v1h-1zM249 313h1v1h-1zM712 313h1v1h-1zM1167 174h2v1h-2zM1173 174h3v1h-3zM1237 174h1v1h-1zM896 389h1v1h-1zM972 389h1v1h-1zM1073 389h1v1h-1zM184 297h1v1h-1zM224 297h3v1h-3zM327 297h1v1h-1zM433 297h3v1h-3zM440 297h2v1h-2zM482 297h5v1h-5zM495 297h2v1h-2zM1153 167h3v1h-3zM1159 167h1v1h-1zM1242 167h1v1h-1zM246 310h1v1h-1zM708 310h1v1h-1zM178 292h1v1h-1zM427 292h2v1h-2zM503 292h2v1h-2zM689 292h1v1h-1zM247 311h1v1h-1zM709 311h2v1h-2zM186 299h1v1h-1zM219 299h2v1h-2zM231 299h4v1h-4zM444 299h5v1h-5zM468 299h7v1h-7zM491 299h2v1h-2zM698 299h1v1h-1zM180 294h2v1h-2zM329 294h1v1h-1zM430 294h1v1h-1zM500 294h2v1h-2zM693 294h1v1h-1zM129 243h1v1h-1zM583 243h3v1h-3zM631 243h1v1h-1zM255 319h1v1h-1zM717 319h1v1h-1zM23 197h2v1h-2zM183 296h1v1h-1zM432 296h1v1h-1zM436 296h4v1h-4zM497 296h1v1h-1zM354 265h2v1h-2zM395 265h1v1h-1zM533 265h6v1h-6zM656 265h1v1h-1zM158 278h1v1h-1zM340 278h1v1h-1zM410 278h1v1h-1zM765 400h1v1h-1zM774 400h1v1h-1zM982 400h4v1h-4zM989 400h2v1h-2zM1045 400h1v1h-1zM1059 400h1v1h-1zM185 298h1v1h-1zM221 298h3v1h-3zM227 298h4v1h-4zM442 298h2v1h-2zM475 298h7v1h-7zM487 298h4v1h-4zM493 298h2v1h-2zM697 298h1v1h-1zM170 288h2v1h-2zM423 288h1v1h-1zM680 288h2v1h-2zM758 394h1v1h-1zM976 394h1v1h-1zM997 394h1v1h-1zM1006 394h2v1h-2zM1025 394h1v1h-1zM1036 394h2v1h-2zM1066 394h1v1h-1zM195 307h3v1h-3zM203 307h5v1h-5zM243 307h1v1h-1zM704 307h2v1h-2zM144 258h2v1h-2zM386 258h1v1h-1zM561 258h2v1h-2zM650 258h1v1h-1zM179 293h1v1h-1zM330 293h1v1h-1zM429 293h1v1h-1zM502 293h1v1h-1zM690 293h3v1h-3zM136 250h1v1h-1zM572 250h1v1h-1zM639 250h2v1h-2zM155 274h1v1h-1zM343 274h1v1h-1zM519 274h1v1h-1zM666 274h1v1h-1zM905 378h1v1h-1zM937 378h1v1h-1zM54 232h1v1h-1zM88 232h2v1h-2zM104 232h7v1h-7zM117 232h1v1h-1zM608 232h4v1h-4zM615 232h4v1h-4zM7 190h1v1h-1zM1189 190h1v1h-1zM1210 190h2v1h-2zM12 193h7v1h-7zM757 393h1v1h-1zM975 393h1v1h-1zM998 393h8v1h-8zM1026 393h3v1h-3zM1034 393h2v1h-2zM1067 393h2v1h-2zM894 388h2v1h-2zM897 388h1v1h-1zM971 388h1v1h-1zM1074 388h1v1h-1zM832 217h1v1h-1zM835 217h1v1h-1zM60 240h1v1h-1zM76 240h1v1h-1zM127 240h1v1h-1zM591 240h1v1h-1zM629 240h1v1h-1zM19 194h2v1h-2zM68 242h6v1h-6zM586 242h3v1h-3zM408 276h1v1h-1zM517 276h1v1h-1zM668 276h1v1h-1zM165 285h2v1h-2zM419 285h1v1h-1zM510 285h1v1h-1zM676 285h1v1h-1zM349 268h2v1h-2zM400 268h1v1h-1zM526 268h1v1h-1zM659 268h1v1h-1zM958 380h4v1h-4zM53 231h1v1h-1zM90 231h1v1h-1zM102 231h2v1h-2zM111 231h6v1h-6zM612 231h3v1h-3zM55 233h1v1h-1zM87 233h1v1h-1zM118 233h2v1h-2zM600 233h8v1h-8zM619 233h2v1h-2zM1147 175h1v1h-1zM1169 175h4v1h-4zM1176 175h1v1h-1zM1235 175h2v1h-2zM760 396h1v1h-1zM978 396h1v1h-1zM995 396h1v1h-1zM1009 396h2v1h-2zM1015 396h6v1h-6zM1039 396h1v1h-1zM1063 396h2v1h-2zM941 384h10v1h-10zM968 384h1v1h-1zM1077 384h1v1h-1zM288 343h5v1h-5zM733 343h1v1h-1zM1246 161h1v1h-1zM131 245h1v1h-1zM578 245h2v1h-2zM633 245h1v1h-1zM356 264h2v1h-2zM393 264h2v1h-2zM539 264h5v1h-5zM655 264h1v1h-1zM755 390h1v1h-1zM1072 390h1v1h-1zM61 241h7v1h-7zM74 241h2v1h-2zM589 241h2v1h-2zM875 371h3v1h-3zM932 371h1v1h-1zM1165 173h2v1h-2zM47 223h1v1h-1zM827 223h1v1h-1zM358 263h1v1h-1zM392 263h1v1h-1zM544 263h6v1h-6zM48 224h1v1h-1zM826 224h1v1h-1zM1215 187h1v1h-1zM161 282h1v1h-1zM415 282h1v1h-1zM512 282h1v1h-1zM673 282h1v1h-1zM766 401h2v1h-2zM773 401h1v1h-1zM986 401h3v1h-3zM1046 401h3v1h-3zM1057 401h2v1h-2zM883 375h2v1h-2zM935 375h1v1h-1zM342 275h1v1h-1zM518 275h1v1h-1zM667 275h1v1h-1zM137 251h1v1h-1zM371 251h8v1h-8zM571 251h1v1h-1zM641 251h1v1h-1zM28 200h1v1h-1zM761 397h2v1h-2zM979 397h1v1h-1zM994 397h1v1h-1zM1011 397h4v1h-4zM1040 397h2v1h-2zM1062 397h1v1h-1zM1222 180h1v1h-1zM1226 180h3v1h-3zM29 201h1v1h-1zM79 238h2v1h-2zM125 238h1v1h-1zM594 238h1v1h-1zM627 238h1v1h-1zM275 338h2v1h-2zM298 338h1v1h-1zM730 338h1v1h-1zM84 235h1v1h-1zM121 235h1v1h-1zM597 235h2v1h-2zM623 235h1v1h-1zM245 309h1v1h-1zM320 309h1v1h-1zM707 309h1v1h-1zM1142 182h1v1h-1zM1183 182h1v1h-1zM1220 182h1v1h-1zM916 364h1v1h-1zM926 364h1v1h-1zM266 332h1v1h-1zM305 332h1v1h-1zM50 227h1v1h-1zM823 227h1v1h-1zM168 287h2v1h-2zM422 287h1v1h-1zM508 287h1v1h-1zM678 287h2v1h-2zM150 266h1v1h-1zM353 266h1v1h-1zM396 266h2v1h-2zM530 266h3v1h-3zM657 266h1v1h-1zM388 260h2v1h-2zM558 260h2v1h-2zM652 260h1v1h-1zM11 192h1v1h-1zM1205 192h4v1h-4zM182 295h1v1h-1zM431 295h1v1h-1zM498 295h2v1h-2zM694 295h2v1h-2zM139 253h1v1h-1zM367 253h2v1h-2zM380 253h1v1h-1zM568 253h2v1h-2zM643 253h1v1h-1zM752 386h1v1h-1zM891 386h1v1h-1zM899 386h1v1h-1zM140 254h1v1h-1zM381 254h2v1h-2zM567 254h1v1h-1zM644 254h2v1h-2zM30 202h1v1h-1zM31 203h1v1h-1zM888 381h1v1h-1zM903 381h1v1h-1zM939 381h1v1h-1zM955 381h3v1h-3zM962 381h2v1h-2zM351 267h2v1h-2zM398 267h2v1h-2zM527 267h3v1h-3zM658 267h1v1h-1zM1263 128h1v1h-1zM216 301h1v1h-1zM237 301h1v1h-1zM454 301h7v1h-7zM26 199h2v1h-2zM172 289h2v1h-2zM333 289h1v1h-1zM424 289h1v1h-1zM682 289h2v1h-2zM176 291h2v1h-2zM426 291h1v1h-1zM505 291h1v1h-1zM686 291h3v1h-3zM348 269h1v1h-1zM401 269h2v1h-2zM525 269h1v1h-1zM660 269h1v1h-1zM1186 186h1v1h-1zM1216 186h1v1h-1zM133 247h1v1h-1zM575 247h2v1h-2zM635 247h2v1h-2zM254 318h1v1h-1zM716 318h1v1h-1zM174 290h2v1h-2zM332 290h1v1h-1zM425 290h1v1h-1zM506 290h1v1h-1zM684 290h2v1h-2zM22 196h1v1h-1zM1213 188h2v1h-2zM753 387h1v1h-1zM892 387h2v1h-2zM898 387h1v1h-1zM970 387h1v1h-1zM1075 387h1v1h-1zM768 402h2v1h-2zM771 402h2v1h-2zM1049 402h2v1h-2zM1056 402h1v1h-1zM873 372h2v1h-2zM878 372h2v1h-2zM163 284h2v1h-2zM417 284h2v1h-2zM675 284h1v1h-1zM413 281h2v1h-2zM513 281h1v1h-1zM672 281h1v1h-1zM345 272h1v1h-1zM405 272h1v1h-1zM521 272h2v1h-2zM664 272h1v1h-1zM880 373h2v1h-2zM908 373h1v1h-1zM974 392h1v1h-1zM1029 392h1v1h-1zM1032 392h2v1h-2zM1069 392h1v1h-1zM93 229h7v1h-7zM253 317h1v1h-1zM715 317h1v1h-1zM91 230h2v1h-2zM100 230h2v1h-2zM825 225h1v1h-1zM1252 149h1v1h-1zM1265 124h1v1h-1zM882 374h1v1h-1zM934 374h1v1h-1zM1030 391h2v1h-2zM1070 391h2v1h-2zM1162 170h1v1h-1zM1240 170h1v1h-1zM189 303h1v1h-1zM213 303h2v1h-2zM239 303h1v1h-1zM162 283h1v1h-1zM337 283h1v1h-1zM416 283h1v1h-1zM674 283h1v1h-1zM1180 178h1v1h-1zM1231 178h1v1h-1zM142 256h1v1h-1zM365 256h1v1h-1zM384 256h1v1h-1zM564 256h2v1h-2zM647 256h2v1h-2zM33 205h1v1h-1zM58 237h1v1h-1zM81 237h1v1h-1zM124 237h1v1h-1zM595 237h1v1h-1zM625 237h2v1h-2zM34 206h1v1h-1zM198 308h5v1h-5zM244 308h1v1h-1zM706 308h1v1h-1zM262 329h1v1h-1zM307 329h1v1h-1zM1152 168h1v1h-1zM1160 168h1v1h-1zM273 337h2v1h-2zM299 337h1v1h-1zM347 270h1v1h-1zM403 270h1v1h-1zM524 270h1v1h-1zM661 270h2v1h-2zM917 363h1v1h-1zM925 363h1v1h-1zM311 324h1v1h-1zM914 366h1v1h-1zM928 366h1v1h-1zM85 234h2v1h-2zM120 234h1v1h-1zM599 234h1v1h-1zM621 234h2v1h-2zM763 398h1v1h-1zM980 398h1v1h-1zM993 398h1v1h-1zM1042 398h1v1h-1zM1061 398h1v1h-1zM1146 176h1v1h-1zM1177 176h2v1h-2zM1234 176h1v1h-1zM921 359h1v1h-1zM35 207h1v1h-1zM272 336h1v1h-1zM300 336h2v1h-2zM159 279h1v1h-1zM411 279h1v1h-1zM670 279h1v1h-1zM36 208h1v1h-1zM257 322h1v1h-1zM719 322h1v1h-1zM51 228h1v1h-1zM720 323h1v1h-1zM902 382h1v1h-1zM953 382h2v1h-2zM964 382h2v1h-2zM1079 382h1v1h-1zM157 277h1v1h-1zM409 277h1v1h-1zM516 277h1v1h-1zM252 316h1v1h-1zM141 255h1v1h-1zM383 255h1v1h-1zM566 255h1v1h-1zM646 255h1v1h-1zM132 246h1v1h-1zM577 246h1v1h-1zM634 246h1v1h-1zM167 286h1v1h-1zM335 286h1v1h-1zM420 286h2v1h-2zM509 286h1v1h-1zM677 286h1v1h-1zM824 226h1v1h-1zM770 403h1v1h-1zM1051 403h1v1h-1zM1055 403h1v1h-1zM281 341h1v1h-1zM294 341h2v1h-2zM38 211h1v1h-1zM77 239h2v1h-2zM126 239h1v1h-1zM592 239h2v1h-2zM628 239h1v1h-1zM1182 181h1v1h-1zM1221 181h1v1h-1zM828 222h1v1h-1zM722 326h1v1h-1zM412 280h1v1h-1zM514 280h1v1h-1zM671 280h1v1h-1zM5 189h2v1h-2zM1188 189h1v1h-1zM1212 189h1v1h-1zM759 395h1v1h-1zM977 395h1v1h-1zM996 395h1v1h-1zM1008 395h1v1h-1zM1021 395h4v1h-4zM1038 395h1v1h-1zM1065 395h1v1h-1zM362 261h1v1h-1zM390 261h1v1h-1zM555 261h3v1h-3zM653 261h1v1h-1zM1219 183h1v1h-1zM268 334h2v1h-2zM303 334h1v1h-1zM346 271h1v1h-1zM404 271h1v1h-1zM523 271h1v1h-1zM663 271h1v1h-1zM267 333h1v1h-1zM304 333h1v1h-1zM727 333h1v1h-1zM146 259h1v1h-1zM387 259h1v1h-1zM560 259h1v1h-1zM651 259h1v1h-1zM143 257h1v1h-1zM385 257h1v1h-1zM563 257h1v1h-1zM649 257h1v1h-1zM259 325h1v1h-1zM310 325h1v1h-1zM265 331h1v1h-1zM130 244h1v1h-1zM580 244h3v1h-3zM632 244h1v1h-1zM32 204h1v1h-1zM919 361h1v1h-1zM923 361h1v1h-1zM1248 157h1v1h-1zM1261 132h1v1h-1zM134 248h1v1h-1zM574 248h1v1h-1zM637 248h1v1h-1zM1144 179h1v1h-1zM1223 179h3v1h-3zM1229 179h2v1h-2zM42 216h1v1h-1zM833 216h2v1h-2zM277 339h1v1h-1zM297 339h1v1h-1zM192 306h3v1h-3zM208 306h3v1h-3zM242 306h1v1h-1zM703 306h1v1h-1zM915 365h1v1h-1zM927 365h1v1h-1zM1156 166h3v1h-3zM1243 166h1v1h-1zM1053 405h1v1h-1zM1140 185h1v1h-1zM1185 185h1v1h-1zM1217 185h1v1h-1zM314 320h1v1h-1zM278 340h3v1h-3zM296 340h1v1h-1zM190 304h1v1h-1zM212 304h1v1h-1zM240 304h1v1h-1zM323 304h1v1h-1zM829 221h1v1h-1zM135 249h1v1h-1zM573 249h1v1h-1zM638 249h1v1h-1zM191 305h1v1h-1zM211 305h1v1h-1zM241 305h1v1h-1zM702 305h1v1h-1zM263 330h2v1h-2zM725 330h1v1h-1zM39 212h1v1h-1zM911 369h1v1h-1zM930 369h1v1h-1zM1052 404h1v1h-1zM1054 404h1v1h-1zM918 362h1v1h-1zM924 362h1v1h-1zM41 215h1v1h-1zM1218 184h1v1h-1zM723 327h1v1h-1zM270 335h2v1h-2zM302 335h1v1h-1zM912 368h1v1h-1zM44 219h1v1h-1zM45 220h1v1h-1zM250 314h1v1h-1zM713 314h1v1h-1zM251 315h1v1h-1zM261 328h1v1h-1zM308 328h1v1h-1zM1250 153h1v1h-1zM1161 169h1v1h-1zM1149 172h1v1h-1zM1164 172h1v1h-1zM831 218h1v1h-1zM836 218h1v1h-1zM885 376h1v1h-1zM1267 120h1v1h-1zM25 198h1v1h-1zM21 195h1v1h-1zM913 367h1v1h-1z" fill="#ff0000"/>
<path d="M6 191v2h1v-2zM803 203v7h1v-7zM1110 211v5h1v-5zM807 176v6h1v-6zM920 383v4h1v-4zM181 308v3h1v-3zM850 400v16h1v-16zM1227 162v2h1v-2zM687 297v2h1v-2zM842 319v9h1v-9zM425 296v3h1v-3zM726 372v3h1v-3zM820 152v6h1v-6zM1115 182v5h1v-5zM870 411v11h1v-11zM847 370v10h1v-10zM875 352v9h1v-9zM1029 411v2h1v-2zM1102 252v6h1v-6zM813 148v3h1v-3zM864 459v6h1v-6zM785 316v9h1v-9zM65 254v2h1v-2zM853 444v9h1v-9zM900 375v8h1v-8zM255 352v2h1v-2zM880 319v7h1v-7zM1223 169v2h1v-2zM964 403v3h1v-3zM447 293v2h1v-2zM252 346v2h1v-2zM901 383v7h1v-7zM605 241v2h1v-2zM1135 141v2h1v-2zM93 208v2h1v-2zM279 336v2h1v-2zM790 282v5h1v-5zM984 415v4h1v-4zM874 361v12h1v-12zM915 401v4h1v-4zM314 292v2h1v-2zM878 332v7h1v-7zM784 325v9h1v-9zM481 290v2h1v-2zM1139 146v2h1v-2zM823 172v7h1v-7zM1079 361v2h1v-2zM148 265v3h1v-3zM100 224v3h1v-3zM1106 231v5h1v-5zM1092 299v7h1v-7zM873 373v12h1v-12zM384 249v2h1v-2zM793 268v4h1v-4zM1111 205v6h1v-6zM996 367v4h1v-4zM103 234v3h1v-3zM852 432v12h1v-12zM798 236v6h1v-6zM1127 149v2h1v-2zM1146 161v3h1v-3zM802 210v7h1v-7zM238 316v2h1v-2zM76 218v3h1v-3zM241 322v3h1v-3zM1149 172v5h1v-5zM939 362v3h1v-3zM1091 306v7h1v-7zM634 252v2h1v-2zM318 282v3h1v-3zM1014 391v4h1v-4zM826 194v7h1v-7zM775 375v4h1v-4zM686 299v2h1v-2zM63 257v2h1v-2zM1096 281v4h1v-4zM1123 157v3h1v-3zM894 331v6h1v-6zM1017 403v2h1v-2zM822 164v8h1v-8zM116 267v2h1v-2zM1156 189v2h1v-2zM1257 93v3h1v-3zM729 382v3h1v-3zM1114 187v7h1v-7zM811 155v5h1v-5zM1157 191v2h1v-2zM879 326v6h1v-6zM160 309v4h1v-4zM1160 196v2h1v-2zM682 305v2h1v-2zM991 387v4h1v-4zM863 465v4h1v-4zM789 287v6h1v-6zM732 391v3h1v-3zM856 462v4h1v-4zM480 292v2h1v-2zM914 405v4h1v-4zM779 358v4h1v-4zM229 302v2h1v-2zM666 302v3h1v-3zM835 261v10h1v-10zM778 362v4h1v-4zM897 352v7h1v-7zM844 338v11h1v-11zM903 395v4h1v-4zM164 321v2h1v-2zM1087 330v5h1v-5zM866 445v7h1v-7zM330 245v2h1v-2zM476 300v2h1v-2zM153 282v3h1v-3zM1174 193v2h1v-2zM825 187v7h1v-7zM273 348v2h1v-2zM1252 112v3h1v-3zM841 312v7h1v-7zM75 221v2h1v-2zM154 285v4h1v-4zM872 385v13h1v-13zM792 272v5h1v-5zM766 403v2h1v-2zM179 312v3h1v-3zM930 362v3h1v-3zM368 249v3h1v-3zM797 242v7h1v-7zM837 280v11h1v-11zM801 217v6h1v-6zM899 367v8h1v-8zM846 359v11h1v-11zM569 238v4h1v-4zM393 278v4h1v-4zM774 379v3h1v-3zM91 205v2h1v-2zM606 243v2h1v-2zM1108 221v5h1v-5zM806 182v7h1v-7zM843 328v10h1v-10zM1171 199v2h1v-2zM324 260v5h1v-5zM175 320v2h1v-2zM95 211v3h1v-3zM577 213v3h1v-3zM1113 194v5h1v-5zM896 344v8h1v-8zM659 289v2h1v-2zM862 469v4h1v-4zM70 238v4h1v-4zM101 227v3h1v-3zM1058 378v4h1v-4zM382 244v3h1v-3zM777 366v5h1v-5zM970 415v2h1v-2zM809 165v6h1v-6zM385 251v3h1v-3zM922 375v4h1v-4zM867 438v7h1v-7zM871 398v13h1v-13zM849 390v10h1v-10zM105 239v3h1v-3zM344 254v3h1v-3zM1243 138v3h1v-3zM389 263v3h1v-3zM831 230v8h1v-8zM239 318v2h1v-2zM1145 158v3h1v-3zM1034 408v2h1v-2zM881 312v7h1v-7zM786 305v11h1v-11zM329 247v2h1v-2zM475 302v2h1v-2zM67 248v3h1v-3zM703 309v3h1v-3zM1104 241v6h1v-6zM560 266v3h1v-3zM706 320v3h1v-3zM724 366v3h1v-3zM893 324v7h1v-7zM791 277v5h1v-5zM246 334v2h1v-2zM781 346v6h1v-6zM647 269v2h1v-2zM765 405v2h1v-2zM247 336v2h1v-2zM568 242v4h1v-4zM796 249v8h1v-8zM1240 145v2h1v-2zM366 255v2h1v-2zM1169 202v2h1v-2zM303 315v2h1v-2zM537 253v2h1v-2zM651 275v2h1v-2zM772 386v3h1v-3zM315 289v3h1v-3zM917 394v4h1v-4zM159 305v4h1v-4zM728 379v3h1v-3zM854 453v4h1v-4zM833 245v9h1v-9zM885 298v2h1v-2zM805 189v7h1v-7zM734 395v3h1v-3zM1081 358v2h1v-2zM795 257v6h1v-6zM810 160v5h1v-5zM299 322v2h1v-2zM668 306v2h1v-2zM1009 368v5h1v-5zM966 407v2h1v-2zM396 290v3h1v-3zM851 416v16h1v-16zM1255 100v4h1v-4zM1050 406v3h1v-3zM1112 199v6h1v-6zM830 223v7h1v-7zM1232 155v2h1v-2zM149 268v4h1v-4zM672 312v2h1v-2zM692 289v2h1v-2zM824 179v8h1v-8zM79 211v2h1v-2zM787 298v7h1v-7zM563 259v3h1v-3zM818 141v6h1v-6zM152 278v4h1v-4zM25 213v3h1v-3zM876 346v6h1v-6zM836 271v9h1v-9zM1085 340v5h1v-5zM1103 247v5h1v-5zM22 206v2h1v-2zM327 252v3h1v-3zM292 333v2h1v-2zM1090 313v6h1v-6zM28 221v3h1v-3zM764 407v2h1v-2zM993 378v4h1v-4zM111 256v3h1v-3zM486 282v2h1v-2zM392 274v4h1v-4zM29 224v2h1v-2zM1250 118v4h1v-4zM827 201v8h1v-8zM624 253v2h1v-2zM895 337v7h1v-7zM1239 147v2h1v-2zM660 291v2h1v-2zM365 257v2h1v-2zM780 352v6h1v-6zM657 285v2h1v-2zM567 246v4h1v-4zM35 239v2h1v-2zM712 337v3h1v-3zM839 299v7h1v-7zM848 380v10h1v-10zM521 253v2h1v-2zM804 196v7h1v-7zM1247 128v3h1v-3zM298 324v2h1v-2zM276 342v2h1v-2zM857 466v3h1v-3zM904 399v5h1v-5zM346 258v3h1v-3zM719 353v3h1v-3zM311 299v2h1v-2zM691 291v2h1v-2zM845 349v10h1v-10zM1176 189v2h1v-2zM898 359v8h1v-8zM702 305v4h1v-4zM571 230v4h1v-4zM517 260v2h1v-2zM776 371v4h1v-4zM627 249v2h1v-2zM932 358v3h1v-3zM597 225v2h1v-2zM1037 412v2h1v-2zM245 331v3h1v-3zM578 211v2h1v-2zM946 378v2h1v-2zM649 272v2h1v-2zM949 383v2h1v-2zM539 257v2h1v-2zM992 382v5h1v-5zM950 385v2h1v-2zM1238 149v2h1v-2zM50 250v2h1v-2zM364 259v3h1v-3zM868 430v8h1v-8zM397 293v2h1v-2zM444 289v2h1v-2zM999 361v2h1v-2zM829 216v7h1v-7zM968 411v2h1v-2zM338 244v2h1v-2zM566 250v4h1v-4zM770 392v4h1v-4zM799 229v7h1v-7zM891 311v6h1v-6zM360 267v2h1v-2zM520 255v2h1v-2zM1246 131v2h1v-2zM740 407v3h1v-3zM373 241v2h1v-2zM23 208v2h1v-2zM310 301v2h1v-2zM477 298v2h1v-2zM1175 191v2h1v-2zM106 242v3h1v-3zM24 210v3h1v-3zM390 266v4h1v-4zM570 234v4h1v-4zM516 262v2h1v-2zM919 387v4h1v-4zM942 370v2h1v-2zM423 300v3h1v-3zM832 238v7h1v-7zM27 219v2h1v-2zM306 309v2h1v-2zM110 253v3h1v-3zM1083 350v5h1v-5zM512 270v2h1v-2zM1020 410v2h1v-2zM838 291v8h1v-8zM34 236v3h1v-3zM711 335v2h1v-2zM161 313v4h1v-4zM1093 293v6h1v-6zM769 396v3h1v-3zM574 221v3h1v-3zM859 471v2h1v-2zM1245 133v3h1v-3zM906 407v2h1v-2zM819 147v5h1v-5zM995 371v3h1v-3zM986 409v3h1v-3zM1063 362v2h1v-2zM269 353v2h1v-2zM156 293v4h1v-4zM948 381v2h1v-2zM305 311v2h1v-2zM157 297v4h1v-4zM317 285v2h1v-2zM472 308v2h1v-2zM1122 160v2h1v-2zM1249 122v3h1v-3zM254 350v2h1v-2zM511 272v2h1v-2zM449 296v2h1v-2zM886 297v2h1v-2zM990 391v5h1v-5zM607 245v2h1v-2zM1100 263v5h1v-5zM213 290v2h1v-2zM1141 150v2h1v-2zM507 279v2h1v-2zM742 411v2h1v-2zM573 224v3h1v-3zM882 305v7h1v-7zM183 304v3h1v-3zM297 326v2h1v-2zM321 273v3h1v-3zM386 254v3h1v-3zM746 416v2h1v-2zM994 374v4h1v-4zM944 374v2h1v-2zM941 368v2h1v-2zM821 158v6h1v-6zM1019 408v2h1v-2zM32 231v3h1v-3zM325 257v3h1v-3zM599 230v2h1v-2zM1120 165v3h1v-3zM548 270v2h1v-2zM902 390v5h1v-5zM998 363v2h1v-2zM738 403v3h1v-3zM699 295v4h1v-4zM456 308v2h1v-2zM166 325v2h1v-2zM78 213v3h1v-3zM892 317v7h1v-7zM723 363v3h1v-3zM921 379v4h1v-4zM320 276v4h1v-4zM559 269v2h1v-2zM888 301v3h1v-3zM916 398v3h1v-3zM609 248v3h1v-3zM97 215v3h1v-3zM1140 148v2h1v-2zM1143 154v2h1v-2zM275 344v2h1v-2zM988 401v4h1v-4zM1147 164v5h1v-5zM1267 81v2h1v-2zM1116 177v5h1v-5zM865 452v7h1v-7zM1226 164v2h1v-2zM869 422v8h1v-8zM1015 395v4h1v-4zM1084 345v5h1v-5zM248 338v2h1v-2zM812 151v4h1v-4zM158 301v4h1v-4zM601 234v2h1v-2zM558 271v2h1v-2zM1107 226v5h1v-5zM983 419v2h1v-2zM144 259v2h1v-2zM736 399v3h1v-3zM1195 194v2h1v-2zM274 346v2h1v-2zM132 262v2h1v-2zM151 275v3h1v-3zM816 140v3h1v-3zM113 261v2h1v-2zM30 226v3h1v-3zM1060 369v5h1v-5zM72 229v5h1v-5zM1101 258v5h1v-5zM37 243v2h1v-2zM1088 324v6h1v-6zM1119 168v3h1v-3zM1131 142v2h1v-2zM565 254v3h1v-3zM1217 180v2h1v-2zM783 334v6h1v-6zM1013 387v4h1v-4zM348 262v2h1v-2zM240 320v2h1v-2zM1055 389v4h1v-4zM1213 187v2h1v-2zM725 369v3h1v-3zM1109 216v5h1v-5zM367 252v3h1v-3zM250 342v2h1v-2zM538 255v2h1v-2zM1006 360v2h1v-2zM484 285v2h1v-2zM952 389v2h1v-2zM855 457v5h1v-5zM1159 194v2h1v-2zM1082 355v3h1v-3zM834 254v7h1v-7zM1162 199v2h1v-2zM300 320v2h1v-2zM840 306v6h1v-6zM150 272v3h1v-3zM1130 144v2h1v-2zM1105 236v5h1v-5zM937 358v2h1v-2zM814 145v3h1v-3zM108 247v3h1v-3zM1148 169v3h1v-3zM66 251v3h1v-3zM782 340v6h1v-6zM1126 151v2h1v-2zM592 217v2h1v-2zM487 280v2h1v-2zM985 412v3h1v-3zM112 259v2h1v-2zM800 223v6h1v-6zM731 388v3h1v-3zM661 293v2h1v-2zM36 241v2h1v-2zM713 340v3h1v-3zM1049 409v3h1v-3zM479 294v2h1v-2zM1012 383v4h1v-4zM598 227v3h1v-3zM1005 358v2h1v-2zM951 387v2h1v-2zM576 216v3h1v-3zM256 354v2h1v-2zM679 309v2h1v-2zM323 265v3h1v-3zM174 322v2h1v-2zM925 370v2h1v-2zM969 413v2h1v-2zM1057 382v4h1v-4zM1072 361v2h1v-2zM478 296v2h1v-2zM808 171v5h1v-5zM107 245v2h1v-2zM705 316v4h1v-4zM943 372v2h1v-2zM1150 177v3h1v-3zM1052 400v3h1v-3zM1021 412v2h1v-2zM302 317v2h1v-2zM1191 186v2h1v-2zM322 268v5h1v-5zM794 263v5h1v-5zM860 473v2h1v-2zM562 262v2h1v-2zM1097 276v5h1v-5zM918 391v3h1v-3zM652 277v2h1v-2zM828 209v7h1v-7zM1051 403v3h1v-3zM890 306v5h1v-5zM313 294v3h1v-3zM967 409v2h1v-2zM887 299v2h1v-2zM400 298v2h1v-2zM788 293v5h1v-5zM380 240v2h1v-2zM611 252v3h1v-3zM102 230v4h1v-4zM1142 152v2h1v-2zM427 292v3h1v-3zM243 327v2h1v-2zM815 143v2h1v-2zM704 312v4h1v-4zM1016 399v4h1v-4zM707 323v4h1v-4zM1190 184v2h1v-2zM1248 125v3h1v-3zM71 234v4h1v-4zM1059 374v4h1v-4zM858 469v2h1v-2zM877 339v7h1v-7zM669 308v2h1v-2zM506 281v2h1v-2zM296 328v2h1v-2zM934 355v2h1v-2zM640 259v2h1v-2zM1224 167v2h1v-2zM1054 393v4h1v-4zM684 302v2h1v-2zM115 265v2h1v-2zM1001 358v2h1v-2zM1095 285v4h1v-4zM1256 96v4h1v-4zM452 301v2h1v-2zM362 263v3h1v-3zM997 365v2h1v-2zM1144 156v2h1v-2zM768 399v2h1v-2zM905 404v3h1v-3zM1086 335v5h1v-5zM370 245v2h1v-2zM242 325v2h1v-2zM1124 155v2h1v-2zM1173 195v2h1v-2zM727 375v4h1v-4zM1251 115v3h1v-3zM74 223v2h1v-2zM177 316v3h1v-3zM249 340v2h1v-2zM421 304v2h1v-2zM730 385v3h1v-3zM602 236v2h1v-2zM1259 90v2h1v-2zM1094 289v4h1v-4zM540 259v2h1v-2zM339 246v2h1v-2zM212 292v2h1v-2zM69 242v3h1v-3zM767 401v2h1v-2zM1242 141v2h1v-2zM391 270v4h1v-4zM1172 197v2h1v-2zM73 225v4h1v-4zM31 229v2h1v-2zM708 327v3h1v-3zM99 220v4h1v-4zM451 299v2h1v-2zM771 389v3h1v-3zM454 304v2h1v-2zM923 373v2h1v-2zM883 301v4h1v-4zM81 207v2h1v-2zM701 302v3h1v-3zM722 360v3h1v-3zM1254 104v4h1v-4zM211 294v2h1v-2zM68 245v3h1v-3zM349 264v2h1v-2zM352 268v2h1v-2zM1241 143v2h1v-2zM251 344v2h1v-2zM600 232v2h1v-2zM1007 362v2h1v-2zM1163 201v2h1v-2zM278 338v2h1v-2zM1010 373v5h1v-5zM147 263v2h1v-2zM1118 171v3h1v-3zM341 249v2h1v-2zM233 307v2h1v-2zM236 312v2h1v-2zM309 303v2h1v-2zM689 294v2h1v-2zM1253 108v4h1v-4zM938 360v2h1v-2zM109 250v3h1v-3zM644 264v2h1v-2zM1152 181v3h1v-3zM1193 190v2h1v-2zM662 295v2h1v-2zM163 319v2h1v-2zM312 297v2h1v-2zM989 396v5h1v-5zM1099 268v4h1v-4zM518 258v2h1v-2zM700 299v3h1v-3zM721 357v3h1v-3zM308 305v2h1v-2zM514 266v2h1v-2zM1125 153v2h1v-2zM773 382v4h1v-4zM654 280v2h1v-2zM1008 364v4h1v-4zM395 286v4h1v-4zM544 265v2h1v-2zM889 304v2h1v-2zM381 242v2h1v-2zM224 296v2h1v-2zM399 296v2h1v-2zM402 301v2h1v-2zM332 242v2h1v-2zM235 310v2h1v-2zM388 260v3h1v-3zM1065 359v2h1v-2zM307 307v2h1v-2zM328 249v3h1v-3zM319 280v2h1v-2zM474 304v2h1v-2zM594 220v2h1v-2zM646 267v2h1v-2zM1061 366v3h1v-3zM513 268v2h1v-2zM928 366v2h1v-2zM1089 319v5h1v-5zM470 311v2h1v-2zM664 298v3h1v-3zM575 219v2h1v-2zM1192 188v2h1v-2zM1011 378v5h1v-5zM9 195v2h1v-2zM987 405v4h1v-4zM155 289v4h1v-4zM473 306v2h1v-2zM763 409v2h1v-2zM394 282v4h1v-4zM469 313v2h1v-2zM715 345v3h1v-3zM1048 412v2h1v-2zM387 257v3h1v-3zM77 216v2h1v-2zM596 223v2h1v-2zM561 264v2h1v-2zM244 329v2h1v-2zM945 376v2h1v-2zM326 255v2h1v-2zM960 396v2h1v-2zM603 238v2h1v-2zM1221 172v3h1v-3zM26 216v3h1v-3zM515 264v2h1v-2zM33 234v2h1v-2zM710 332v3h1v-3zM98 218v2h1v-2zM714 343v2h1v-2zM717 349v3h1v-3zM913 409v2h1v-2zM1117 174v3h1v-3zM1244 136v2h1v-2zM909 411v2h1v-2zM1053 397v3h1v-3zM1062 364v2h1v-2zM304 313v2h1v-2zM316 287v2h1v-2zM253 348v2h1v-2zM962 399v3h1v-3zM510 274v2h1v-2zM1121 162v3h1v-3zM541 261v2h1v-2zM1219 176v3h1v-3zM817 138v3h1v-3zM861 473v3h1v-3zM572 227v3h1v-3zM1098 272v4h1v-4zM104 237v2h1v-2zM940 365v3h1v-3zM369 247v2h1v-2zM1018 405v3h1v-3zM114 263v2h1v-2zM1154 185v3h1v-3zM709 330v2h1v-2zM1132 140v2h1v-2zM698 293v2h1v-2zM509 276v2h1v-2zM455 306v2h1v-2zM162 317v2h1v-2zM165 323v2h1v-2zM185 300v3h1v-3zM1128 147v2h1v-2zM1056 386v3h1v-3zM1214 185v2h1v-2zM383 247v2h1v-2zM80 209v2h1v-2zM971 417v2h1v-2zM342 251v2h1v-2zM237 314v2h1v-2zM1229 159v2h1v-2zM557 273v2h1v-2zM1194 192v2h1v-2zM277 340v2h1v-2zM19 202v2h1v-2zM11 198v2h1v-2zM655 282v2h1v-2zM658 287v2h1v-2zM134 259v2h1v-2zM171 326v2h1v-2zM564 257v2h1v-2zM1216 182v2h1v-2zM482 288v2h1v-2zM203 293h2v1h-2zM221 293h1v1h-1zM690 293h1v1h-1zM435 284h1v1h-1zM439 284h1v1h-1zM485 284h1v1h-1zM656 284h1v1h-1zM579 211h1v1h-1zM584 211h2v1h-2zM283 334h4v1h-4zM374 240h1v1h-1zM379 240h1v1h-1zM604 240h1v1h-1zM230 304h1v1h-1zM404 304h1v1h-1zM683 304h1v1h-1zM436 283h1v1h-1zM438 283h1v1h-1zM503 283h3v1h-3zM553 275h2v1h-2zM556 275h1v1h-1zM1233 154h1v1h-1zM744 414h1v1h-1zM759 414h1v1h-1zM1022 414h1v1h-1zM1027 414h1v1h-1zM1038 414h2v1h-2zM1046 414h2v1h-2zM129 266h1v1h-1zM350 266h1v1h-1zM361 266h1v1h-1zM645 266h1v1h-1zM437 282h1v1h-1zM499 282h4v1h-4zM293 332h1v1h-1zM186 299h2v1h-2zM190 299h1v1h-1zM196 299h1v1h-1zM226 299h1v1h-1zM424 299h1v1h-1zM1204 191h3v1h-3zM743 413h1v1h-1zM760 413h1v1h-1zM910 413h1v1h-1zM1028 413h1v1h-1zM176 319h1v1h-1zM301 319h1v1h-1zM280 335h3v1h-3zM287 335h2v1h-2zM291 335h1v1h-1zM117 269h5v1h-5zM126 269h1v1h-1zM355 269h4v1h-4zM547 269h1v1h-1zM232 306h1v1h-1zM407 306h1v1h-1zM420 306h1v1h-1zM58 258h2v1h-2zM135 258h1v1h-1zM143 258h1v1h-1zM639 258h1v1h-1zM127 268h1v1h-1zM359 268h1v1h-1zM546 268h1v1h-1zM1179 186h1v1h-1zM336 243h2v1h-2zM372 243h1v1h-1zM168 327h1v1h-1zM491 280h3v1h-3zM5 190h1v1h-1zM1207 190h4v1h-4zM926 369h1v1h-1zM43 246h4v1h-4zM8 194h1v1h-1zM1197 194h2v1h-2zM333 241h2v1h-2zM234 309h1v1h-1zM410 309h2v1h-2zM415 309h2v1h-2zM214 289h2v1h-2zM430 289h1v1h-1zM694 289h1v1h-1zM748 419h1v1h-1zM753 419h2v1h-2zM972 419h1v1h-1zM12 200h3v1h-3zM17 200h1v1h-1zM741 410h1v1h-1zM908 410h1v1h-1zM1030 410h1v1h-1zM1035 410h1v1h-1zM433 286h1v1h-1zM441 286h1v1h-1zM551 274h2v1h-2zM650 274h1v1h-1zM1235 152h1v1h-1zM761 412h1v1h-1zM911 412h1v1h-1zM178 315h1v1h-1zM463 315h6v1h-6zM21 205h1v1h-1zM83 205h2v1h-2zM1166 205h1v1h-1zM192 301h1v1h-1zM194 301h1v1h-1zM228 301h1v1h-1zM665 301h1v1h-1zM685 301h1v1h-1zM51 252h1v1h-1zM522 252h1v1h-1zM536 252h1v1h-1zM625 252h1v1h-1zM459 312h2v1h-2zM676 312h2v1h-2zM976 422h1v1h-1zM979 422h1v1h-1zM977 423h2v1h-2zM231 305h1v1h-1zM405 305h2v1h-2zM667 305h1v1h-1zM10 197h1v1h-1zM20 204h1v1h-1zM85 204h3v1h-3zM90 204h1v1h-1zM1165 204h1v1h-1zM1167 204h2v1h-2zM1183 182h1v1h-1zM1187 182h2v1h-2zM1000 360h1v1h-1zM1071 360h1v1h-1zM1080 360h1v1h-1zM200 295h1v1h-1zM207 295h2v1h-2zM223 295h1v1h-1zM398 295h1v1h-1zM426 295h1v1h-1zM448 295h1v1h-1zM216 290h1v1h-1zM429 290h1v1h-1zM695 290h1v1h-1zM217 291h3v1h-3zM428 291h1v1h-1zM445 291h1v1h-1zM696 291h1v1h-1zM1263 86h1v1h-1zM55 256h2v1h-2zM64 256h1v1h-1zM614 256h2v1h-2zM619 256h3v1h-3zM637 256h1v1h-1zM47 247h1v1h-1zM527 247h5v1h-5zM608 247h1v1h-1zM49 249h1v1h-1zM525 249h1v1h-1zM533 249h1v1h-1zM630 249h1v1h-1zM259 358h2v1h-2zM263 358h2v1h-2zM1004 358h1v1h-1zM1066 358h3v1h-3zM1258 92h1v1h-1zM54 255h1v1h-1zM612 255h2v1h-2zM622 255h2v1h-2zM636 255h1v1h-1zM739 406h1v1h-1zM965 406h1v1h-1zM133 261h1v1h-1zM145 261h1v1h-1zM347 261h1v1h-1zM641 261h1v1h-1zM931 361h1v1h-1zM1064 361h1v1h-1zM128 267h1v1h-1zM351 267h1v1h-1zM545 267h1v1h-1zM524 250h1v1h-1zM534 250h1v1h-1zM631 250h2v1h-2zM191 300h1v1h-1zM195 300h1v1h-1zM227 300h1v1h-1zM401 300h1v1h-1zM884 300h1v1h-1zM182 307h1v1h-1zM408 307h1v1h-1zM418 307h2v1h-2zM681 307h1v1h-1zM750 421h1v1h-1zM974 421h2v1h-2zM980 421h3v1h-3zM188 298h2v1h-2zM197 298h1v1h-1zM225 298h1v1h-1zM450 298h1v1h-1zM376 238h2v1h-2zM270 352h1v1h-1zM718 352h1v1h-1zM331 244h1v1h-1zM371 244h1v1h-1zM18 201h1v1h-1zM1170 201h1v1h-1zM220 292h1v1h-1zM446 292h1v1h-1zM697 292h1v1h-1zM523 251h1v1h-1zM535 251h1v1h-1zM610 251h1v1h-1zM626 251h1v1h-1zM633 251h1v1h-1zM1196 195h1v1h-1zM1228 161h1v1h-1zM199 296h1v1h-1zM209 296h2v1h-2zM688 296h1v1h-1zM494 281h5v1h-5zM201 294h2v1h-2zM205 294h2v1h-2zM222 294h1v1h-1zM745 415h1v1h-1zM758 415h1v1h-1zM1023 415h2v1h-2zM1026 415h1v1h-1zM1040 415h2v1h-2zM1044 415h2v1h-2zM82 206h1v1h-1zM57 257h1v1h-1zM136 257h7v1h-7zM345 257h1v1h-1zM519 257h1v1h-1zM616 257h3v1h-3zM638 257h1v1h-1zM434 285h1v1h-1zM440 285h1v1h-1zM716 348h1v1h-1zM1073 363h6v1h-6zM48 248h1v1h-1zM340 248h1v1h-1zM526 248h1v1h-1zM532 248h1v1h-1zM628 248h2v1h-2zM1202 192h2v1h-2zM38 245h5v1h-5zM462 314h1v1h-1zM673 314h1v1h-1zM1180 185h1v1h-1zM461 313h1v1h-1zM674 313h2v1h-2zM271 351h1v1h-1zM1262 87h1v1h-1zM261 359h2v1h-2zM1069 359h2v1h-2zM1161 198h1v1h-1zM550 273h1v1h-1zM733 394h1v1h-1zM957 394h1v1h-1zM412 310h1v1h-1zM414 310h1v1h-1zM457 310h1v1h-1zM471 310h1v1h-1zM670 310h1v1h-1zM1218 179h1v1h-1zM180 311h1v1h-1zM413 311h1v1h-1zM458 311h1v1h-1zM671 311h1v1h-1zM678 311h1v1h-1zM749 420h1v1h-1zM751 420h2v1h-2zM973 420h1v1h-1zM96 214h1v1h-1zM589 214h1v1h-1zM956 393h1v1h-1zM1184 181h1v1h-1zM1186 181h1v1h-1zM1138 145h1v1h-1zM198 297h1v1h-1zM663 297h1v1h-1zM146 262h1v1h-1zM363 262h1v1h-1zM642 262h1v1h-1zM375 239h1v1h-1zM378 239h1v1h-1zM167 326h1v1h-1zM1151 180h1v1h-1zM1185 180h1v1h-1zM555 276h1v1h-1zM432 287h1v1h-1zM442 287h1v1h-1zM483 287h1v1h-1zM7 193h1v1h-1zM1158 193h1v1h-1zM1199 193h3v1h-3zM257 356h1v1h-1zM267 356h1v1h-1zM720 356h1v1h-1zM935 356h1v1h-1zM1033 407h1v1h-1zM53 254h1v1h-1zM635 254h1v1h-1zM587 213h2v1h-2zM1222 171h1v1h-1zM488 279h3v1h-3zM653 279h1v1h-1zM757 416h1v1h-1zM1025 416h1v1h-1zM1042 416h2v1h-2zM954 392h2v1h-2zM61 260h1v1h-1zM169 328h2v1h-2zM258 357h1v1h-1zM265 357h2v1h-2zM933 357h1v1h-1zM936 357h1v1h-1zM1002 357h2v1h-2zM581 209h2v1h-2zM94 210h1v1h-1zM580 210h1v1h-1zM583 210h1v1h-1zM508 278h1v1h-1zM762 411h1v1h-1zM912 411h1v1h-1zM1036 411h1v1h-1zM52 253h1v1h-1zM343 253h1v1h-1zM1211 189h2v1h-2zM958 395h2v1h-2zM1182 183h1v1h-1zM1189 183h1v1h-1zM1236 151h2v1h-2zM1231 157h1v1h-1zM1178 187h1v1h-1zM1268 80h1v1h-1zM1260 89h1v1h-1zM409 308h1v1h-1zM417 308h1v1h-1zM680 308h1v1h-1zM122 270h4v1h-4zM353 270h2v1h-2zM88 203h2v1h-2zM1164 203h1v1h-1zM735 398h1v1h-1zM961 398h1v1h-1zM590 215h1v1h-1zM172 325h1v1h-1zM15 199h2v1h-2zM747 418h1v1h-1zM755 418h1v1h-1zM586 212h1v1h-1zM542 263h1v1h-1zM643 263h1v1h-1zM953 391h1v1h-1zM60 259h1v1h-1zM62 259h1v1h-1zM431 288h1v1h-1zM443 288h1v1h-1zM693 288h1v1h-1zM907 409h1v1h-1zM1031 409h1v1h-1zM1155 188h1v1h-1zM1177 188h1v1h-1zM295 330h1v1h-1zM1153 184h1v1h-1zM1181 184h1v1h-1zM1215 184h1v1h-1zM947 380h1v1h-1zM756 417h1v1h-1zM1261 88h1v1h-1zM289 336h2v1h-2zM737 402h1v1h-1zM963 402h1v1h-1zM1134 140h1v1h-1zM1129 146h1v1h-1zM1265 84h1v1h-1zM184 303h1v1h-1zM403 303h1v1h-1zM422 303h1v1h-1zM453 303h1v1h-1zM1220 175h1v1h-1zM130 265h1v1h-1zM268 355h1v1h-1zM1136 143h1v1h-1zM173 324h1v1h-1zM924 372h1v1h-1zM193 302h1v1h-1zM335 242h1v1h-1zM1230 158h1v1h-1zM1266 83h1v1h-1zM648 271h1v1h-1zM131 264h1v1h-1zM543 264h1v1h-1zM1264 85h1v1h-1zM929 365h1v1h-1zM591 216h1v1h-1zM595 222h1v1h-1zM1133 139h1v1h-1zM92 207h1v1h-1zM1234 153h1v1h-1zM593 219h1v1h-1zM294 331h1v1h-1zM1225 166h1v1h-1zM1032 408h1v1h-1zM927 368h1v1h-1zM549 272h1v1h-1zM272 350h1v1h-1zM1137 144h1v1h-1z" fill="#ffa500"/>
<rect x="5" y="45" width="1592" height="2" fill="#ff0000"/>
<rect x="4" y="43" width="6" height="6" fill="#ff0000"/><rect x="6" y="45" width="2" height="2" fill="#fff"/>
<rect x="1591" y="43" width="6" height="6" fill="#ff0000"/><rect x="1593" y="45" width="2" height="2" fill="#fff"/>
<rect x="5" y="98" width="1592" height="2" fill="#ff0000"/>
<rect x="4" y="96" width="6" height="6" fill="#ff0000"/><rect x="6" y="98" width="2" height="2" fill="#fff"/>
<rect x="1591" y="96" width="6" height="6" fill="#ff0000"/><rect x="1593" y="98" width="2" height="2" fill="#fff"/>
<rect x="5" y="154" width="1592" height="2" fill="#00ff00"/>
<rect x="4" y="152" width="6" height="6" fill="#00ff00"/><rect x="6" y="154" width="2" height="2" fill="#fff"/>
<rect x="1591" y="152" width="6" height="6" fill="#00ff00"/><rect x="1593" y="154" width="2" height="2" fill="#fff"/>
<rect x="5" y="210" width="1592" height="2" fill="#0000ff"/>
<rect x="4" y="208" width="6" height="6" fill="#0000ff"/><rect x="6" y="210" width="2" height="2" fill="#fff"/>
<rect x="1591" y="208" width="6" height="6" fill="#0000ff"/><rect x="1593" y="210" width="2" height="2" fill="#fff"/>
<rect x="5" y="264" width="1592" height="2" fill="#0000ff"/>
<rect x="4" y="262" width="6" height="6" fill="#0000ff"/><rect x="6" y="264" width="2" height="2" fill="#fff"/>
<rect x="1591" y="262" width="6" height="6" fill="#0000ff"/><rect x="1593" y="264" width="2" height="2" fill="#fff"/>
<rect x="5" y="319" width="1592" height="2" fill="#0000ff"/>
<rect x="4" y="317" width="6" height="6" fill="#0000ff"/><rect x="6" y="319" width="2" height="2" fill="#fff"/>
<rect x="1591" y="317" width="6" height="6" fill="#0000ff"/><rect x="1593" y="319" width="2" height="2" fill="#fff"/>
<path d="M6 561.5H1597" stroke="#c0c0c0" stroke-width="1" stroke-dasharray="3 3" fill="none"/>
<path d="M6 597.5H1597" stroke="#c0c0c0" stroke-width="1" stroke-dasharray="3 3" fill="none"/>
<path d="M485 571v2h1v-2zM880 576v2h1v-2zM812 556v2h1v-2zM561 566v2h1v-2zM835 581v2h1v-2zM439 580v3h1v-3zM868 578v3h1v-3zM222 582v2h1v-2zM210 585v2h1v-2zM169 589v2h1v-2zM1135 560v4h1v-4zM677 588v3h1v-3zM195 584v2h1v-2zM415 585v3h1v-3zM240 590v2h1v-2zM772 573v4h1v-4zM867 581v2h1v-2zM753 594v2h1v-2zM583 569v3h1v-3zM290 581v2h1v-2zM526 566v2h1v-2zM168 591v3h1v-3zM536 578v2h1v-2zM814 560v2h1v-2zM854 596v2h1v-2zM194 586v3h1v-3zM811 554v2h1v-2zM836 583v2h1v-2zM441 584v2h1v-2zM224 585v2h1v-2zM56 592v2h1v-2zM1167 573v3h1v-3zM866 583v3h1v-3zM688 581v2h1v-2zM681 579v2h1v-2zM1136 564v4h1v-4zM783 560v3h1v-3zM166 597v3h1v-3zM1216 570v2h1v-2zM991 572v2h1v-2zM379 573v4h1v-4zM380 577v4h1v-4zM581 566v2h1v-2zM988 576v2h1v-2zM750 603v2h1v-2zM770 582v6h1v-6zM695 588v2h1v-2zM585 573v2h1v-2zM208 584v3h1v-3zM629 578v2h1v-2zM680 581v2h1v-2zM165 600v2h1v-2zM1215 572v2h1v-2zM1047 579v2h1v-2zM470 581v2h1v-2zM51 596v2h1v-2zM678 586v2h1v-2zM1214 574v2h1v-2zM1046 581v2h1v-2zM473 575v2h1v-2zM206 581v2h1v-2zM1027 582v2h1v-2zM469 583v2h1v-2zM769 588v3h1v-3zM62 586v3h1v-3zM818 568v3h1v-3zM191 587v2h1v-2zM673 596v2h1v-2zM597 578v2h1v-2zM53 599v2h1v-2zM381 581v3h1v-3zM779 567v2h1v-2zM487 575v2h1v-2zM1084 566v2h1v-2zM61 589v2h1v-2zM19 591v2h1v-2zM821 578v2h1v-2zM312 569v2h1v-2zM417 581v2h1v-2zM486 573v2h1v-2zM813 558v2h1v-2zM869 576v2h1v-2zM820 574v4h1v-4zM1074 576v2h1v-2zM292 577v2h1v-2zM196 581v3h1v-3zM416 583v2h1v-2zM998 572v2h1v-2zM268 582v2h1v-2zM378 570v3h1v-3zM135 582v2h1v-2zM789 555v2h1v-2zM557 576v2h1v-2zM781 564v2h1v-2zM837 585v2h1v-2zM800 554v2h1v-2zM1134 556v4h1v-4zM1175 569v2h1v-2zM560 568v3h1v-3zM1240 568v2h1v-2zM631 581v3h1v-3zM65 578v2h1v-2zM839 588v2h1v-2zM151 595v2h1v-2zM752 596v4h1v-4zM987 578v2h1v-2zM1133 553v3h1v-3zM679 583v3h1v-3zM809 550v2h1v-2zM197 579v2h1v-2zM413 590v2h1v-2zM55 594v3h1v-3zM71 575v2h1v-2zM54 597v2h1v-2zM423 578v2h1v-2zM749 605v2h1v-2zM1179 574v2h1v-2zM488 577v2h1v-2zM815 562v2h1v-2zM20 593v2h1v-2zM594 572v2h1v-2zM50 594v2h1v-2zM126 587v3h1v-3zM1137 568v2h1v-2zM878 573v2h1v-2zM1049 575v2h1v-2zM1000 575v2h1v-2zM1045 583v2h1v-2zM472 577v2h1v-2zM377 568v2h1v-2zM791 558v3h1v-3zM125 590v2h1v-2zM64 580v3h1v-3zM528 570v2h1v-2zM623 578v2h1v-2zM817 566v2h1v-2zM593 570v2h1v-2zM1238 571v2h1v-2zM1063 575v2h1v-2zM63 583v3h1v-3zM675 592v3h1v-3zM1002 578v2h1v-2zM1165 577v2h1v-2zM865 586v2h1v-2zM291 579v2h1v-2zM527 568v2h1v-2zM633 585v2h1v-2zM534 575v2h1v-2zM283 584v2h1v-2zM833 577v2h1v-2zM1004 581v2h1v-2zM239 588v2h1v-2zM559 571v2h1v-2zM183 585v2h1v-2zM152 597v2h1v-2zM1076 573v2h1v-2zM471 579v2h1v-2zM167 594v3h1v-3zM810 552v2h1v-2zM558 573v3h1v-3zM129 580v2h1v-2zM687 579v2h1v-2zM751 600v3h1v-3zM771 577v5h1v-5zM52 598v2h1v-2zM842 592v2h1v-2zM310 572v2h1v-2zM819 571v3h1v-3zM986 580v2h1v-2zM856 592v2h1v-2zM844 595v2h1v-2zM773 570v3h1v-3zM855 594v2h1v-2zM266 585v2h1v-2zM57 590v2h1v-2zM596 576v2h1v-2zM498 575v2h1v-2zM1083 568v2h1v-2zM18 589v2h1v-2zM193 589v2h1v-2zM91 579v2h1v-2zM437 577v2h1v-2zM798 557v2h1v-2zM128 582v3h1v-3zM212 581v2h1v-2zM907 584v2h1v-2zM463 585v2h1v-2zM489 579v2h1v-2zM816 564v2h1v-2zM1082 570v2h1v-2zM1048 577v2h1v-2zM211 583v2h1v-2zM834 579v2h1v-2zM259 593v2h1v-2zM414 588v2h1v-2zM595 574v2h1v-2zM127 585v2h1v-2zM807 551h2v1h-2zM72 574h1v1h-1zM74 574h1v1h-1zM295 574h2v1h-2zM302 574h1v1h-1zM308 574h2v1h-2zM342 574h1v1h-1zM352 574h2v1h-2zM474 574h2v1h-2zM499 574h2v1h-2zM504 574h2v1h-2zM532 574h2v1h-2zM586 574h2v1h-2zM874 574h1v1h-1zM990 574h1v1h-1zM999 574h1v1h-1zM1051 574h1v1h-1zM1062 574h1v1h-1zM1153 574h3v1h-3zM1200 574h3v1h-3zM92 581h1v1h-1zM134 581h1v1h-1zM220 581h2v1h-2zM269 581h2v1h-2zM418 581h4v1h-4zM538 581h1v1h-1zM543 581h1v1h-1zM599 581h2v1h-2zM612 581h3v1h-3zM621 581h1v1h-1zM824 581h6v1h-6zM888 581h1v1h-1zM915 581h1v1h-1zM929 581h1v1h-1zM937 581h1v1h-1zM1028 581h1v1h-1zM1030 581h1v1h-1zM58 590h3v1h-3zM102 590h1v1h-1zM108 590h8v1h-8zM120 590h4v1h-4zM146 590h1v1h-1zM262 590h1v1h-1zM393 590h5v1h-5zM405 590h8v1h-8zM456 590h3v1h-3zM651 590h1v1h-1zM696 590h1v1h-1zM764 590h5v1h-5zM840 590h1v1h-1zM859 590h1v1h-1zM198 579h7v1h-7zM433 579h2v1h-2zM438 579h1v1h-1zM494 579h1v1h-1zM545 579h8v1h-8zM554 579h1v1h-1zM616 579h4v1h-4zM682 579h1v1h-1zM822 579h1v1h-1zM831 579h1v1h-1zM886 579h1v1h-1zM917 579h2v1h-2zM925 579h3v1h-3zM931 579h1v1h-1zM935 579h1v1h-1zM17 588h1v1h-1zM99 588h2v1h-2zM141 588h3v1h-3zM171 588h1v1h-1zM180 588h2v1h-2zM233 588h2v1h-2zM264 588h1v1h-1zM391 588h1v1h-1zM399 588h2v1h-2zM402 588h1v1h-1zM448 588h7v1h-7zM460 588h2v1h-2zM649 588h1v1h-1zM863 588h1v1h-1zM897 588h3v1h-3zM969 588h5v1h-5zM335 569h1v1h-1zM362 569h1v1h-1zM510 569h1v1h-1zM516 569h1v1h-1zM519 569h1v1h-1zM778 569h1v1h-1zM1057 569h1v1h-1zM1138 569h1v1h-1zM1144 569h4v1h-4zM1171 569h1v1h-1zM1217 569h2v1h-2zM1222 569h2v1h-2zM1226 569h1v1h-1zM336 570h1v1h-1zM360 570h2v1h-2zM509 570h1v1h-1zM517 570h2v1h-2zM774 570h4v1h-4zM993 570h3v1h-3zM1056 570h1v1h-1zM1058 570h1v1h-1zM1139 570h1v1h-1zM1143 570h1v1h-1zM1148 570h1v1h-1zM1170 570h1v1h-1zM1219 570h3v1h-3zM1227 570h1v1h-1zM1232 570h2v1h-2zM1239 570h1v1h-1zM725 605h7v1h-7zM16 587h1v1h-1zM98 587h1v1h-1zM139 587h2v1h-2zM172 587h4v1h-4zM179 587h1v1h-1zM182 587h1v1h-1zM209 587h1v1h-1zM225 587h2v1h-2zM232 587h1v1h-1zM235 587h1v1h-1zM238 587h1v1h-1zM265 587h1v1h-1zM285 587h1v1h-1zM390 587h1v1h-1zM401 587h1v1h-1zM447 587h1v1h-1zM462 587h1v1h-1zM641 587h1v1h-1zM648 587h1v1h-1zM694 587h1v1h-1zM838 587h1v1h-1zM864 587h1v1h-1zM895 587h2v1h-2zM900 587h6v1h-6zM968 587h1v1h-1zM974 587h1v1h-1zM93 582h1v1h-1zM271 582h1v1h-1zM275 582h7v1h-7zM539 582h2v1h-2zM542 582h1v1h-1zM601 582h1v1h-1zM611 582h1v1h-1zM889 582h1v1h-1zM909 582h4v1h-4zM914 582h1v1h-1zM938 582h1v1h-1zM946 582h2v1h-2zM984 582h2v1h-2zM1017 582h4v1h-4zM1031 582h2v1h-2zM29 593h1v1h-1zM41 593h1v1h-1zM49 593h1v1h-1zM149 593h1v1h-1zM244 593h3v1h-3zM254 593h1v1h-1zM655 593h1v1h-1zM660 593h5v1h-5zM700 593h3v1h-3zM754 593h2v1h-2zM94 583h1v1h-1zM185 583h2v1h-2zM207 583h1v1h-1zM272 583h3v1h-3zM282 583h1v1h-1zM289 583h1v1h-1zM382 583h5v1h-5zM440 583h1v1h-1zM465 583h3v1h-3zM541 583h1v1h-1zM602 583h1v1h-1zM608 583h3v1h-3zM689 583h1v1h-1zM890 583h1v1h-1zM908 583h1v1h-1zM913 583h1v1h-1zM939 583h1v1h-1zM944 583h2v1h-2zM948 583h9v1h-9zM983 583h1v1h-1zM1005 583h1v1h-1zM1015 583h2v1h-2zM1021 583h3v1h-3zM1033 583h1v1h-1zM339 572h1v1h-1zM355 572h3v1h-3zM479 572h5v1h-5zM507 572h1v1h-1zM529 572h2v1h-2zM584 572h1v1h-1zM590 572h1v1h-1zM877 572h1v1h-1zM1054 572h1v1h-1zM1060 572h1v1h-1zM1077 572h5v1h-5zM1150 572h1v1h-1zM1168 572h1v1h-1zM1177 572h1v1h-1zM1229 572h2v1h-2zM1235 572h2v1h-2zM66 578h4v1h-4zM90 578h1v1h-1zM431 578h2v1h-2zM435 578h1v1h-1zM495 578h2v1h-2zM555 578h2v1h-2zM628 578h1v1h-1zM683 578h4v1h-4zM832 578h1v1h-1zM881 578h5v1h-5zM919 578h6v1h-6zM932 578h1v1h-1zM934 578h1v1h-1zM1065 578h9v1h-9zM1164 578h1v1h-1zM1184 578h4v1h-4zM130 580h4v1h-4zM205 580h1v1h-1zM213 580h7v1h-7zM422 580h1v1h-1zM490 580h4v1h-4zM537 580h1v1h-1zM544 580h1v1h-1zM553 580h1v1h-1zM598 580h1v1h-1zM615 580h1v1h-1zM620 580h1v1h-1zM622 580h1v1h-1zM630 580h1v1h-1zM823 580h1v1h-1zM830 580h1v1h-1zM887 580h1v1h-1zM916 580h1v1h-1zM928 580h1v1h-1zM930 580h1v1h-1zM936 580h1v1h-1zM1003 580h1v1h-1zM1029 580h1v1h-1zM314 567h1v1h-1zM333 567h1v1h-1zM364 567h1v1h-1zM375 567h1v1h-1zM512 567h1v1h-1zM514 567h1v1h-1zM522 567h1v1h-1zM1173 567h1v1h-1zM1241 567h1v1h-1zM311 571h1v1h-1zM337 571h2v1h-2zM358 571h2v1h-2zM484 571h1v1h-1zM508 571h1v1h-1zM591 571h2v1h-2zM992 571h1v1h-1zM996 571h2v1h-2zM1055 571h1v1h-1zM1059 571h1v1h-1zM1140 571h3v1h-3zM1149 571h1v1h-1zM1169 571h1v1h-1zM1176 571h1v1h-1zM1228 571h1v1h-1zM1231 571h1v1h-1zM1234 571h1v1h-1zM785 558h1v1h-1zM1103 558h1v1h-1zM28 594h1v1h-1zM30 594h1v1h-1zM39 594h2v1h-2zM150 594h1v1h-1zM255 594h1v1h-1zM656 594h4v1h-4zM665 594h1v1h-1zM703 594h1v1h-1zM843 594h1v1h-1zM7 586h9v1h-9zM97 586h1v1h-1zM138 586h1v1h-1zM176 586h3v1h-3zM190 586h1v1h-1zM227 586h1v1h-1zM231 586h1v1h-1zM236 586h2v1h-2zM284 586h1v1h-1zM286 586h1v1h-1zM389 586h1v1h-1zM444 586h3v1h-3zM634 586h7v1h-7zM642 586h1v1h-1zM647 586h1v1h-1zM693 586h1v1h-1zM894 586h1v1h-1zM906 586h1v1h-1zM966 586h2v1h-2zM975 586h1v1h-1zM1009 586h3v1h-3zM1037 586h2v1h-2zM75 575h1v1h-1zM80 575h3v1h-3zM294 575h1v1h-1zM303 575h2v1h-2zM307 575h1v1h-1zM343 575h2v1h-2zM350 575h2v1h-2zM872 575h2v1h-2zM879 575h1v1h-1zM989 575h1v1h-1zM1050 575h1v1h-1zM1075 575h1v1h-1zM1156 575h3v1h-3zM1196 575h4v1h-4zM1203 575h1v1h-1zM787 556h2v1h-2zM799 556h1v1h-1zM1105 556h1v1h-1zM1112 556h1v1h-1zM1123 556h1v1h-1zM315 566h1v1h-1zM332 566h1v1h-1zM365 566h2v1h-2zM372 566h3v1h-3zM513 566h1v1h-1zM523 566h2v1h-2zM562 566h2v1h-2zM780 566h1v1h-1zM1242 566h1v1h-1zM313 568h1v1h-1zM334 568h1v1h-1zM363 568h1v1h-1zM376 568h1v1h-1zM511 568h1v1h-1zM515 568h1v1h-1zM520 568h2v1h-2zM582 568h1v1h-1zM1172 568h1v1h-1zM1174 568h1v1h-1zM1224 568h2v1h-2zM76 576h1v1h-1zM79 576h1v1h-1zM83 576h1v1h-1zM293 576h1v1h-1zM305 576h2v1h-2zM345 576h5v1h-5zM425 576h5v1h-5zM625 576h2v1h-2zM870 576h2v1h-2zM1159 576h1v1h-1zM1166 576h1v1h-1zM1180 576h1v1h-1zM1192 576h4v1h-4zM1204 576h10v1h-10zM5 585h2v1h-2zM96 585h1v1h-1zM137 585h1v1h-1zM188 585h2v1h-2zM228 585h3v1h-3zM287 585h1v1h-1zM388 585h1v1h-1zM442 585h2v1h-2zM605 585h2v1h-2zM643 585h2v1h-2zM646 585h1v1h-1zM691 585h2v1h-2zM893 585h1v1h-1zM941 585h1v1h-1zM961 585h5v1h-5zM976 585h1v1h-1zM1007 585h2v1h-2zM1012 585h2v1h-2zM1025 585h1v1h-1zM1035 585h2v1h-2zM1039 585h1v1h-1zM711 598h1v1h-1zM852 598h2v1h-2zM317 564h1v1h-1zM329 564h1v1h-1zM368 564h3v1h-3zM567 564h1v1h-1zM579 564h1v1h-1zM1086 564h2v1h-2zM1093 564h2v1h-2zM1245 564h6v1h-6zM21 595h2v1h-2zM27 595h1v1h-1zM31 595h1v1h-1zM38 595h1v1h-1zM256 595h1v1h-1zM258 595h1v1h-1zM666 595h2v1h-2zM674 595h1v1h-1zM704 595h3v1h-3zM95 584h1v1h-1zM136 584h1v1h-1zM184 584h1v1h-1zM187 584h1v1h-1zM223 584h1v1h-1zM267 584h1v1h-1zM288 584h1v1h-1zM387 584h1v1h-1zM464 584h1v1h-1zM468 584h1v1h-1zM603 584h2v1h-2zM607 584h1v1h-1zM632 584h1v1h-1zM645 584h1v1h-1zM690 584h1v1h-1zM891 584h2v1h-2zM940 584h1v1h-1zM942 584h2v1h-2zM957 584h4v1h-4zM977 584h6v1h-6zM1006 584h1v1h-1zM1014 584h1v1h-1zM1024 584h1v1h-1zM1026 584h1v1h-1zM1034 584h1v1h-1zM1040 584h5v1h-5zM322 561h3v1h-3zM572 561h4v1h-4zM792 561h2v1h-2zM1099 561h1v1h-1zM1256 561h10v1h-10zM316 565h1v1h-1zM330 565h2v1h-2zM367 565h1v1h-1zM371 565h1v1h-1zM525 565h1v1h-1zM564 565h3v1h-3zM580 565h1v1h-1zM1085 565h1v1h-1zM1243 565h2v1h-2zM45 591h2v1h-2zM103 591h2v1h-2zM107 591h1v1h-1zM116 591h4v1h-4zM124 591h1v1h-1zM147 591h1v1h-1zM261 591h1v1h-1zM652 591h1v1h-1zM676 591h1v1h-1zM697 591h2v1h-2zM763 591h1v1h-1zM841 591h1v1h-1zM857 591h2v1h-2zM744 609h2v1h-2zM24 597h2v1h-2zM33 597h3v1h-3zM669 597h4v1h-4zM708 597h3v1h-3zM845 597h7v1h-7zM23 596h1v1h-1zM26 596h1v1h-1zM32 596h1v1h-1zM36 596h2v1h-2zM257 596h1v1h-1zM668 596h1v1h-1zM707 596h1v1h-1zM153 599h3v1h-3zM712 599h7v1h-7zM318 563h2v1h-2zM327 563h2v1h-2zM568 563h3v1h-3zM578 563h1v1h-1zM782 563h1v1h-1zM1088 563h5v1h-5zM1095 563h1v1h-1zM1251 563h1v1h-1zM73 573h1v1h-1zM297 573h5v1h-5zM340 573h2v1h-2zM354 573h1v1h-1zM476 573h3v1h-3zM501 573h3v1h-3zM506 573h1v1h-1zM531 573h1v1h-1zM588 573h2v1h-2zM875 573h2v1h-2zM1052 573h2v1h-2zM1061 573h1v1h-1zM1151 573h2v1h-2zM1178 573h1v1h-1zM1237 573h1v1h-1zM1106 555h1v1h-1zM1111 555h1v1h-1zM1124 555h4v1h-4zM70 577h1v1h-1zM77 577h2v1h-2zM84 577h6v1h-6zM424 577h1v1h-1zM430 577h1v1h-1zM436 577h1v1h-1zM497 577h1v1h-1zM535 577h1v1h-1zM624 577h1v1h-1zM627 577h1v1h-1zM933 577h1v1h-1zM1001 577h1v1h-1zM1064 577h1v1h-1zM1160 577h4v1h-4zM1181 577h3v1h-3zM1188 577h4v1h-4zM801 553h5v1h-5zM1109 553h1v1h-1zM1131 553h2v1h-2zM101 589h1v1h-1zM144 589h2v1h-2zM170 589h1v1h-1zM192 589h1v1h-1zM263 589h1v1h-1zM392 589h1v1h-1zM398 589h1v1h-1zM403 589h2v1h-2zM455 589h1v1h-1zM459 589h1v1h-1zM650 589h1v1h-1zM860 589h3v1h-3zM42 592h3v1h-3zM47 592h2v1h-2zM105 592h2v1h-2zM148 592h1v1h-1zM241 592h3v1h-3zM247 592h7v1h-7zM260 592h1v1h-1zM653 592h2v1h-2zM699 592h1v1h-1zM756 592h7v1h-7zM320 562h2v1h-2zM325 562h2v1h-2zM571 562h1v1h-1zM576 562h2v1h-2zM1096 562h3v1h-3zM1252 562h4v1h-4zM784 559h1v1h-1zM796 559h2v1h-2zM1102 559h1v1h-1zM1267 559h2v1h-2zM786 557h1v1h-1zM790 557h1v1h-1zM1104 557h1v1h-1zM1113 557h10v1h-10zM732 606h9v1h-9zM160 601h5v1h-5zM721 601h1v1h-1zM794 560h2v1h-2zM1100 560h2v1h-2zM1266 560h1v1h-1zM741 607h2v1h-2zM747 607h2v1h-2zM156 600h4v1h-4zM719 600h2v1h-2zM1107 554h2v1h-2zM1110 554h1v1h-1zM1128 554h3v1h-3zM722 602h1v1h-1zM723 603h1v1h-1zM724 604h1v1h-1zM743 608h1v1h-1zM746 608h1v1h-1zM806 552h1v1h-1z" fill="#1e90ff"/>
<path d="M5 682h1v2h-1zM9 682h1v6h-1zM13 682h1v4h-1zM17 682h1v6h-1zM21 682h1v9h-1zM25 682h1v11h-1zM29 682h1v12h-1zM33 682h1v14h-1zM37 682h1v15h-1zM41 682h1v15h-1zM45 682h1v15h-1zM49 682h1v16h-1zM53 682h1v17h-1zM57 682h1v17h-1zM61 682h1v16h-1zM65 682h1v14h-1zM69 682h1v11h-1zM73 682h1v8h-1zM77 682h1v6h-1zM81 682h1v4h-1zM85 682h1v2h-1zM89 682h1v2h-1zM93 682h1v2h-1zM97 682h1v3h-1zM101 682h1v4h-1zM105 682h1v6h-1zM109 682h1v9h-1zM113 682h1v10h-1zM117 682h1v11h-1zM121 682h1v11h-1zM125 682h1v10h-1zM129 682h1v10h-1zM133 682h1v9h-1zM137 682h1v8h-1zM141 682h1v9h-1zM145 682h1v9h-1zM149 682h1v10h-1zM153 682h1v14h-1zM157 682h1v16h-1zM161 682h1v18h-1zM165 682h1v20h-1zM169 682h1v19h-1zM173 682h1v18h-1zM177 682h1v17h-1zM181 682h1v16h-1zM185 682h1v15h-1zM189 682h1v12h-1zM193 682h1v13h-1zM197 682h1v11h-1zM201 682h1v9h-1zM205 682h1v7h-1zM209 682h1v8h-1zM213 682h1v7h-1zM217 682h1v6h-1zM221 682h1v6h-1zM225 682h1v7h-1zM229 682h1v7h-1zM233 682h1v7h-1zM237 682h1v8h-1zM241 682h1v10h-1zM245 682h1v12h-1zM249 682h1v13h-1zM253 682h1v14h-1zM257 682h1v15h-1zM261 682h1v16h-1zM265 682h1v14h-1zM269 682h1v13h-1zM273 682h1v11h-1zM277 682h1v10h-1zM281 682h1v9h-1zM285 682h1v8h-1zM289 682h1v7h-1zM293 682h1v6h-1zM297 682h1v3h-1zM301 682h1v2h-1zM305 682h1v1h-1zM309 682h1v1h-1zM313 680h1v3h-1zM317 677h1v6h-1zM321 673h1v10h-1zM325 670h1v13h-1zM329 669h1v14h-1zM333 668h1v15h-1zM337 668h1v15h-1zM341 669h1v14h-1zM345 670h1v13h-1zM349 671h1v12h-1zM353 671h1v12h-1zM357 672h1v11h-1zM361 673h1v10h-1zM365 671h1v12h-1zM369 670h1v13h-1zM373 670h1v13h-1zM377 671h1v12h-1zM381 674h1v9h-1zM385 675h1v8h-1zM389 678h1v5h-1zM393 681h1v2h-1zM397 682h1v1h-1zM401 682h1v2h-1zM405 682h1v3h-1zM409 682h1v5h-1zM413 682h1v6h-1zM417 682h1v5h-1zM421 682h1v4h-1zM425 682h1v3h-1zM429 682h1v2h-1zM433 682h1v3h-1zM437 682h1v2h-1zM441 682h1v3h-1zM445 682h1v3h-1zM449 682h1v4h-1zM453 682h1v4h-1zM457 682h1v5h-1zM461 682h1v6h-1zM465 682h1v5h-1zM469 682h1v4h-1zM473 682h1v3h-1zM477 682h1v2h-1zM481 682h1v1h-1zM485 682h1v1h-1zM489 682h1v1h-1zM493 682h1v1h-1zM497 682h1v1h-1zM501 681h1v2h-1zM505 680h1v3h-1zM509 679h1v4h-1zM513 677h1v6h-1zM517 677h1v6h-1zM521 675h1v8h-1zM525 674h1v9h-1zM529 674h1v9h-1zM533 674h1v9h-1zM537 676h1v7h-1zM541 677h1v6h-1zM545 678h1v5h-1zM549 679h1v4h-1zM553 680h1v3h-1zM557 679h1v4h-1zM561 678h1v5h-1zM565 676h1v7h-1zM569 674h1v9h-1zM573 671h1v12h-1zM577 670h1v13h-1zM581 669h1v14h-1zM585 670h1v13h-1zM589 671h1v12h-1zM593 671h1v12h-1zM597 673h1v10h-1zM601 675h1v8h-1zM605 677h1v6h-1zM609 679h1v4h-1zM613 680h1v3h-1zM617 680h1v3h-1zM621 681h1v2h-1zM625 681h1v2h-1zM629 680h1v3h-1zM633 682h1v1h-1zM637 682h1v1h-1zM641 682h1v2h-1zM645 682h1v3h-1zM649 682h1v4h-1zM653 682h1v6h-1zM657 682h1v7h-1zM661 682h1v9h-1zM665 682h1v10h-1zM669 682h1v12h-1zM673 682h1v12h-1zM677 682h1v12h-1zM681 682h1v10h-1zM685 682h1v8h-1zM689 682h1v8h-1zM693 682h1v8h-1zM697 682h1v8h-1zM701 682h1v10h-1zM705 682h1v12h-1zM709 682h1v14h-1zM713 682h1v16h-1zM717 682h1v16h-1zM721 682h1v19h-1zM725 682h1v22h-1zM729 682h1v23h-1zM733 682h1v24h-1zM737 682h1v26h-1zM741 682h1v27h-1zM745 682h1v28h-1zM749 682h1v29h-1zM753 682h1v26h-1zM757 682h1v25h-1zM761 682h1v24h-1zM765 682h1v22h-1zM769 682h1v20h-1zM773 682h1v15h-1zM777 682h1v10h-1zM781 682h1v5h-1zM785 681h1v2h-1zM789 674h1v9h-1zM793 669h1v14h-1zM797 665h1v18h-1zM801 657h1v26h-1zM805 651h1v32h-1zM809 644h1v39h-1zM813 641h1v42h-1zM817 641h1v42h-1zM821 648h1v35h-1zM825 654h1v29h-1zM829 660h1v23h-1zM833 662h1v21h-1zM837 669h1v14h-1zM841 680h1v3h-1zM845 682h1v8h-1zM849 682h1v20h-1zM853 682h1v28h-1zM857 682h1v31h-1zM861 682h1v32h-1zM865 682h1v31h-1zM869 682h1v24h-1zM873 682h1v17h-1zM877 682h1v8h-1zM881 682h1v7h-1zM885 682h1v4h-1zM889 682h1v4h-1zM893 682h1v8h-1zM897 682h1v13h-1zM901 682h1v15h-1zM905 682h1v17h-1zM909 682h1v16h-1zM913 682h1v15h-1zM917 682h1v13h-1zM921 682h1v10h-1zM925 682h1v8h-1zM929 682h1v8h-1zM933 682h1v6h-1zM937 682h1v4h-1zM941 682h1v7h-1zM945 682h1v8h-1zM949 682h1v8h-1zM953 682h1v8h-1zM957 682h1v9h-1zM961 682h1v9h-1zM965 682h1v10h-1zM969 682h1v13h-1zM973 682h1v14h-1zM977 682h1v13h-1zM981 682h1v12h-1zM985 682h1v11h-1zM989 682h1v8h-1zM993 682h1v3h-1zM997 682h1v1h-1zM1001 682h1v1h-1zM1005 682h1v1h-1zM1009 682h1v3h-1zM1013 682h1v4h-1zM1017 682h1v4h-1zM1021 682h1v6h-1zM1025 682h1v7h-1zM1029 682h1v6h-1zM1033 682h1v6h-1zM1037 682h1v7h-1zM1041 682h1v8h-1zM1045 682h1v8h-1zM1049 682h1v4h-1zM1053 682h1v2h-1zM1057 681h1v2h-1zM1061 679h1v4h-1zM1065 679h1v4h-1zM1069 679h1v4h-1zM1073 679h1v4h-1zM1077 677h1v6h-1zM1081 675h1v8h-1zM1085 671h1v12h-1zM1089 666h1v17h-1zM1093 663h1v20h-1zM1097 660h1v23h-1zM1101 657h1v26h-1zM1105 651h1v32h-1zM1109 645h1v38h-1zM1113 642h1v41h-1zM1117 640h1v43h-1zM1121 639h1v44h-1zM1125 636h1v47h-1zM1129 635h1v48h-1zM1133 634h1v49h-1zM1137 637h1v46h-1zM1141 641h1v42h-1zM1145 644h1v39h-1zM1149 646h1v37h-1zM1153 650h1v33h-1zM1157 654h1v29h-1zM1161 658h1v25h-1zM1165 661h1v22h-1zM1169 662h1v21h-1zM1173 660h1v23h-1zM1177 661h1v22h-1zM1181 664h1v19h-1zM1185 666h1v17h-1zM1189 668h1v15h-1zM1193 669h1v14h-1zM1197 670h1v13h-1zM1201 670h1v13h-1zM1205 671h1v12h-1zM1209 672h1v11h-1zM1213 673h1v10h-1zM1217 671h1v12h-1zM1221 670h1v13h-1zM1225 669h1v14h-1zM1229 670h1v13h-1zM1233 669h1v14h-1zM1237 670h1v13h-1zM1241 668h1v15h-1zM1245 665h1v18h-1zM1249 664h1v19h-1zM1253 662h1v21h-1zM1257 660h1v23h-1zM1261 659h1v24h-1zM1265 659h1v24h-1zM1269 658h1v25h-1z" fill="#c0c0c0"/>
<path d="M857 681v2h1v-2zM850 668v2h1v-2zM843 657v2h1v-2zM847 663v2h1v-2zM864 693v2h1v-2zM860 686v2h1v-2zM801 679v2h1v-2zM853 674v2h1v-2zM330 676h2v1h-2zM402 676h2v1h-2zM533 676h3v1h-3zM551 676h3v1h-3zM557 676h3v1h-3zM623 676h3v1h-3zM854 676h1v1h-1zM29 689h3v1h-3zM119 689h3v1h-3zM227 689h3v1h-3zM233 689h3v1h-3zM239 689h3v1h-3zM671 689h3v1h-3zM1005 689h2v1h-2zM41 692h3v1h-3zM137 692h3v1h-3zM143 692h3v1h-3zM149 692h3v1h-3zM215 692h3v1h-3zM683 692h3v1h-3zM689 692h3v1h-3zM695 692h3v1h-3zM701 692h3v1h-3zM707 692h3v1h-3zM791 692h1v1h-1zM863 692h1v1h-1zM939 692h3v1h-3zM975 692h3v1h-3zM995 692h1v1h-1zM341 672h3v1h-3zM587 672h3v1h-3zM807 672h1v1h-1zM1095 672h2v1h-2zM90 690h2v1h-2zM125 690h3v1h-3zM245 690h3v1h-3zM300 690h2v1h-2zM793 690h1v1h-1zM951 690h3v1h-3zM957 690h3v1h-3zM963 690h3v1h-3zM999 690h3v1h-3zM59 697h3v1h-3zM65 697h3v1h-3zM173 697h3v1h-3zM197 697h3v1h-3zM725 697h3v1h-3zM786 697h1v1h-1zM892 697h2v1h-2zM83 693h3v1h-3zM155 693h3v1h-3zM161 693h3v1h-3zM257 693h3v1h-3zM293 693h3v1h-3zM713 693h3v1h-3zM903 693h3v1h-3zM909 693h3v1h-3zM915 693h2v1h-2zM935 693h1v1h-1zM981 693h3v1h-3zM987 693h3v1h-3zM993 693h2v1h-2zM1136 640h1v1h-1zM1154 640h3v1h-3zM813 662h1v1h-1zM846 662h1v1h-1zM1109 662h1v1h-1zM1268 662h2v1h-2zM353 669h3v1h-3zM359 669h3v1h-3zM1101 669h1v1h-1zM1238 669h3v1h-3zM1244 669h3v1h-3zM809 668h1v1h-1zM1102 668h1v1h-1zM1214 668h3v1h-3zM53 695h3v1h-3zM77 695h3v1h-3zM167 695h1v1h-1zM203 695h3v1h-3zM269 695h3v1h-3zM275 695h3v1h-3zM281 695h3v1h-3zM719 695h3v1h-3zM921 695h3v1h-3zM927 695h3v1h-3zM179 698h3v1h-3zM191 698h3v1h-3zM785 698h1v1h-1zM867 698h1v1h-1zM891 698h1v1h-1zM47 694h3v1h-3zM209 694h3v1h-3zM263 694h3v1h-3zM287 694h3v1h-3zM897 694h3v1h-3zM917 694h1v1h-1zM933 694h2v1h-2zM35 691h3v1h-3zM89 691h1v1h-1zM131 691h3v1h-3zM221 691h3v1h-3zM251 691h3v1h-3zM299 691h1v1h-1zM677 691h3v1h-3zM792 691h1v1h-1zM945 691h3v1h-3zM969 691h3v1h-3zM318 683h2v1h-2zM419 683h3v1h-3zM497 683h3v1h-3zM653 683h3v1h-3zM1071 683h2v1h-2zM335 674h3v1h-3zM617 674h3v1h-3zM805 674h1v1h-1zM1089 674h2v1h-2zM347 670h3v1h-3zM365 670h3v1h-3zM371 670h3v1h-3zM377 670h3v1h-3zM851 670h1v1h-1zM1220 670h3v1h-3zM1226 670h3v1h-3zM1232 670h3v1h-3zM5 686h3v1h-3zM11 686h3v1h-3zM107 686h3v1h-3zM311 686h3v1h-3zM431 686h3v1h-3zM437 686h3v1h-3zM443 686h3v1h-3zM461 686h3v1h-3zM467 686h3v1h-3zM485 686h3v1h-3zM796 686h1v1h-1zM1017 686h3v1h-3zM1035 686h2v1h-2zM1059 686h3v1h-3zM17 687h3v1h-3zM101 687h3v1h-3zM113 687h3v1h-3zM473 687h3v1h-3zM479 687h3v1h-3zM665 687h3v1h-3zM1011 687h3v1h-3zM1037 687h1v1h-1zM1055 687h1v1h-1zM425 685h3v1h-3zM449 685h3v1h-3zM455 685h3v1h-3zM491 685h3v1h-3zM659 685h3v1h-3zM797 685h1v1h-1zM1023 685h3v1h-3zM1029 685h3v1h-3zM1065 685h2v1h-2zM824 652h1v1h-1zM838 652h1v1h-1zM1118 652h1v1h-1zM1173 652h2v1h-2zM185 699h3v1h-3zM731 699h1v1h-1zM868 699h1v1h-1zM1202 665h3v1h-3zM1256 665h3v1h-3zM503 682h3v1h-3zM647 682h3v1h-3zM1073 682h1v1h-1zM830 650h3v1h-3zM1120 650h1v1h-1zM407 678h3v1h-3zM629 678h3v1h-3zM802 678h1v1h-1zM1083 678h1v1h-1zM323 681h1v1h-1zM414 681h2v1h-2zM509 681h3v1h-3zM641 681h3v1h-3zM1077 681h2v1h-2zM1108 663h1v1h-1zM1196 663h3v1h-3zM1262 663h3v1h-3zM383 671h3v1h-3zM389 671h3v1h-3zM593 671h3v1h-3zM599 671h3v1h-3zM605 671h3v1h-3zM1097 671h1v1h-1zM329 677h1v1h-1zM527 677h3v1h-3zM563 677h3v1h-3zM569 677h3v1h-3zM1084 677h2v1h-2zM1142 638h3v1h-3zM1148 638h3v1h-3zM814 661h1v1h-1zM1191 661h2v1h-2zM1114 657h1v1h-1zM1184 657h1v1h-1zM773 705h3v1h-3zM23 688h3v1h-3zM95 688h3v1h-3zM305 688h3v1h-3zM861 688h1v1h-1zM1007 688h1v1h-1zM1041 688h3v1h-3zM1047 688h3v1h-3zM1053 688h2v1h-2zM744 704h2v1h-2zM879 704h3v1h-3zM1113 658h1v1h-1zM1185 658h2v1h-2zM317 684h1v1h-1zM798 684h1v1h-1zM1067 684h1v1h-1zM767 707h3v1h-3zM737 701h3v1h-3zM781 701h1v1h-1zM887 701h1v1h-1zM820 654h1v1h-1zM1178 654h2v1h-2zM395 673h3v1h-3zM581 673h3v1h-3zM611 673h3v1h-3zM806 673h1v1h-1zM1091 673h1v1h-1zM1131 642h2v1h-2zM1160 642h1v1h-1zM1124 647h1v1h-1zM1167 647h1v1h-1zM71 696h3v1h-3zM168 696h2v1h-2zM787 696h1v1h-1zM401 675h1v1h-1zM539 675h3v1h-3zM545 675h3v1h-3zM575 675h3v1h-3zM749 706h3v1h-3zM324 680h1v1h-1zM413 680h1v1h-1zM635 680h3v1h-3zM856 680h1v1h-1zM1079 680h1v1h-1zM780 702h1v1h-1zM886 702h1v1h-1zM325 679h1v1h-1zM515 679h3v1h-3zM521 679h3v1h-3zM811 666h1v1h-1zM810 667h1v1h-1zM1103 667h1v1h-1zM1208 667h3v1h-3zM1250 667h3v1h-3zM755 708h3v1h-3zM761 708h3v1h-3zM1130 643h1v1h-1zM1161 643h1v1h-1zM743 703h1v1h-1zM779 703h1v1h-1zM873 703h3v1h-3zM885 703h1v1h-1zM1107 664h1v1h-1zM1126 645h1v1h-1zM825 651h2v1h-2zM836 651h2v1h-2zM1119 651h1v1h-1zM1172 651h1v1h-1zM732 700h2v1h-2zM869 700h1v1h-1zM1137 639h2v1h-2zM815 660h1v1h-1zM1190 660h1v1h-1zM1125 646h1v1h-1zM1166 646h1v1h-1zM1162 644h1v1h-1zM819 655h1v1h-1zM1180 655h1v1h-1zM818 656h1v1h-1zM842 656h1v1h-1zM1115 656h1v1h-1zM1168 648h1v1h-1z" fill="#ff0000"/>
<g fill="#000">
<rect x="4" y="25" width="1594" height="1"/>
<rect x="4" y="25" width="1" height="695"/>
<rect x="1597" y="25" width="1" height="695"/>
<rect x="4" y="531" width="1594" height="1"/>
<rect x="4" y="533" width="1594" height="1"/>
<rect x="4" y="625" width="1594" height="1"/>
<rect x="4" y="627" width="1594" height="1"/>
<rect x="4" y="719" width="1594" height="1"/>
<rect x="5" y="532" width="1592" height="1" fill="#fff"/>
<rect x="5" y="626" width="1592" height="1" fill="#fff"/>
<rect x="1598" y="33" width="2" height="1"/>
<rect x="1598" y="66" width="2" height="1"/>
<rect x="1598" y="99" width="2" height="1"/>
<rect x="1598" y="132" width="2" height="1"/>
<rect x="1598" y="165" width="2" height="1"/>
<rect x="1598" y="198" width="2" height="1"/>
<rect x="1598" y="231" width="2" height="1"/>
<rect x="1598" y="264" width="2" height="1"/>
<rect x="1598" y="297" width="2" height="1"/>
<rect x="1598" y="330" width="2" height="1"/>
<rect x="1598" y="363" width="2" height="1"/>
<rect x="1598" y="396" width="2" height="1"/>
<rect x="1598" y="429" width="2" height="1"/>
<rect x="1598" y="462" width="2" height="1"/>
<rect x="1598" y="495" width="2" height="1"/>
<rect x="1598" y="528" width="2" height="1"/>
<rect x="1598" y="534" width="2" height="1"/>
<rect x="1598" y="624" width="2" height="1"/>
<rect x="1598" y="628" width="2" height="1"/>
<rect x="1598" y="682" width="2" height="1"/>
<rect x="1598" y="718" width="2" height="1"/>
<rect x="5" y="720" width="1" height="3"/>
<rect x="69" y="720" width="1" height="3"/>
<rect x="133" y="720" width="1" height="3"/>
<rect x="197" y="720" width="1" height="3"/>
<rect x="261" y="720" width="1" height="3"/>
<rect x="325" y="720" width="1" height="3"/>
<rect x="389" y="720" width="1" height="3"/>
<rect x="453" y="720" width="1" height="3"/>
<rect x="517" y="720" width="1" height="3"/>
<rect x="581" y="720" width="1" height="3"/>
<rect x="645" y="720" width="1" height="3"/>
<rect x="709" y="720" width="1" height="3"/>
<rect x="773" y="720" width="1" height="3"/>
<rect x="837" y="720" width="1" height="3"/>
<rect x="901" y="720" width="1" height="3"/>
<rect x="965" y="720" width="1" height="3"/>
<rect x="1029" y="720" width="1" height="3"/>
<rect x="1093" y="720" width="1" height="3"/>
<rect x="1157" y="720" width="1" height="3"/>
<rect x="1221" y="720" width="1" height="3"/>
</g>
<text x="1603.5" y="36.9" font-size="9.9" fill="#000" stroke="#000" stroke-width="0.2" textLength="32.5" lengthAdjust="spacingAndGlyphs" xml:space="preserve">1.15265</text>
<text x="1603.5" y="69.9" font-size="9.9" fill="#000" stroke="#000" stroke-width="0.2" textLength="32.5" lengthAdjust="spacingAndGlyphs" xml:space="preserve">1.14665</text>
<text x="1603.5" y="102.9" font-size="9.9" fill="#000" stroke="#000" stroke-width="0.2" textLength="32.5" lengthAdjust="spacingAndGlyphs" xml:space="preserve">1.14050</text>
<text x="1603.5" y="135.9" font-size="9.9" fill="#000" stroke="#000" stroke-width="0.2" textLength="32.5" lengthAdjust="spacingAndGlyphs" xml:space="preserve">1.13450</text>
<text x="1603.5" y="168.9" font-size="9.9" fill="#000" stroke="#000" stroke-width="0.2" textLength="32.5" lengthAdjust="spacingAndGlyphs" xml:space="preserve">1.12850</text>
<text x="1603.5" y="201.9" font-size="9.9" fill="#000" stroke="#000" stroke-width="0.2" textLength="32.5" lengthAdjust="spacingAndGlyphs" xml:space="preserve">1.12235</text>
<text x="1603.5" y="234.9" font-size="9.9" fill="#000" stroke="#000" stroke-width="0.2" textLength="32.5" lengthAdjust="spacingAndGlyphs" xml:space="preserve">1.11635</text>
<text x="1603.5" y="267.9" font-size="9.9" fill="#000" stroke="#000" stroke-width="0.2" textLength="32.5" lengthAdjust="spacingAndGlyphs" xml:space="preserve">1.11035</text>
<text x="1603.5" y="300.9" font-size="9.9" fill="#000" stroke="#000" stroke-width="0.2" textLength="32.5" lengthAdjust="spacingAndGlyphs" xml:space="preserve">1.10435</text>
<text x="1603.5" y="333.9" font-size="9.9" fill="#000" stroke="#000" stroke-width="0.2" textLength="32.5" lengthAdjust="spacingAndGlyphs" xml:space="preserve">1.09820</text>
<text x="1603.5" y="366.9" font-size="9.9" fill="#000" stroke="#000" stroke-width="0.2" textLength="32.5" lengthAdjust="spacingAndGlyphs" xml:space="preserve">1.09220</text>
<text x="1603.5" y="399.9" font-size="9.9" fill="#000" stroke="#000" stroke-width="0.2" textLength="32.5" lengthAdjust="spacingAndGlyphs" xml:space="preserve">1.08620</text>
<text x="1603.5" y="432.9" font-size="9.9" fill="#000" stroke="#000" stroke-width="0.2" textLength="32.5" lengthAdjust="spacingAndGlyphs" xml:space="preserve">1.08020</text>
<text x="1603.5" y="465.9" font-size="9.9" fill="#000" stroke="#000" stroke-width="0.2" textLength="32.5" lengthAdjust="spacingAndGlyphs" xml:space="preserve">1.07405</text>
<text x="1603.5" y="498.9" font-size="9.9" fill="#000" stroke="#000" stroke-width="0.2" textLength="32.5" lengthAdjust="spacingAndGlyphs" xml:space="preserve">1.06805</text>
<text x="1603.5" y="531.9" font-size="9.9" fill="#000" stroke="#000" stroke-width="0.2" textLength="32.5" lengthAdjust="spacingAndGlyphs" xml:space="preserve">1.06205</text>
<rect x="1599" y="40" width="39" height="11" fill="#ff0000"/>
<text x="1603.5" y="48.9" font-size="9.9" fill="#fff" stroke="#fff" stroke-width="0.2" textLength="32.5" lengthAdjust="spacingAndGlyphs" xml:space="preserve">1.15015</text>
<rect x="1599" y="93" width="39" height="11" fill="#ff0000"/>
<text x="1603.5" y="101.9" font-size="9.9" fill="#fff" stroke="#fff" stroke-width="0.2" textLength="32.5" lengthAdjust="spacingAndGlyphs" xml:space="preserve">1.14047</text>
<rect x="1599" y="149" width="39" height="11" fill="#00ff00"/>
<text x="1603.5" y="157.9" font-size="9.9" fill="#fff" stroke="#fff" stroke-width="0.2" textLength="32.5" lengthAdjust="spacingAndGlyphs" xml:space="preserve">1.13034</text>
<rect x="1599" y="205" width="39" height="11" fill="#0000ff"/>
<text x="1603.5" y="213.9" font-size="9.9" fill="#fff" stroke="#fff" stroke-width="0.2" textLength="32.5" lengthAdjust="spacingAndGlyphs" xml:space="preserve">1.12004</text>
<rect x="1599" y="259" width="39" height="11" fill="#0000ff"/>
<text x="1603.5" y="267.9" font-size="9.9" fill="#fff" stroke="#fff" stroke-width="0.2" textLength="32.5" lengthAdjust="spacingAndGlyphs" xml:space="preserve">1.11009</text>
<rect x="1599" y="314" width="39" height="11" fill="#0000ff"/>
<text x="1603.5" y="322.9" font-size="9.9" fill="#fff" stroke="#fff" stroke-width="0.2" textLength="32.5" lengthAdjust="spacingAndGlyphs" xml:space="preserve">1.10008</text>
<rect x="1599" y="64" width="39" height="11" fill="#000"/>
<text x="1603.5" y="72.9" font-size="9.9" fill="#fff" stroke="#fff" stroke-width="0.2" textLength="32.5" lengthAdjust="spacingAndGlyphs" xml:space="preserve">1.14597</text>
<text x="1601" y="544.0" font-size="9.9" fill="#000" stroke="#000" stroke-width="0.2" textLength="14.5" lengthAdjust="spacingAndGlyphs" xml:space="preserve">100</text>
<text x="1601" y="565.2" font-size="9.9" fill="#000" stroke="#000" stroke-width="0.2" textLength="9.6" lengthAdjust="spacingAndGlyphs" xml:space="preserve">70</text>
<text x="1601" y="601.2" font-size="9.9" fill="#000" stroke="#000" stroke-width="0.2" textLength="9.6" lengthAdjust="spacingAndGlyphs" xml:space="preserve">30</text>
<text x="1601" y="621.9" font-size="9.9" fill="#000" stroke="#000" stroke-width="0.2" textLength="4.8" lengthAdjust="spacingAndGlyphs" xml:space="preserve">0</text>
<text x="1601" y="638.0" font-size="9.9" fill="#000" stroke="#000" stroke-width="0.2" textLength="38" lengthAdjust="spacingAndGlyphs" xml:space="preserve">0.013121</text>
<text x="1601" y="685.9" font-size="9.9" fill="#000" stroke="#000" stroke-width="0.2" textLength="18.6" lengthAdjust="spacingAndGlyphs" xml:space="preserve">0.00</text>
<text x="1601" y="716.2" font-size="9.9" fill="#000" stroke="#000" stroke-width="0.2" textLength="41.5" lengthAdjust="spacingAndGlyphs" xml:space="preserve">-0.008931</text>
<path d="M8 32h7l-3.5 4z" fill="#000" shape-rendering="auto"/>
<text x="20.4" y="36.9" font-size="9.9" fill="#000" stroke="#000" stroke-width="0.2" textLength="63.6" lengthAdjust="spacingAndGlyphs" xml:space="preserve">EURUSD,Daily</text>
<text x="90.2" y="36.9" font-size="9.9" fill="#000" stroke="#000" stroke-width="0.2" textLength="140.8" lengthAdjust="spacingAndGlyphs" xml:space="preserve">1.14422 1.14632 1.14325 1.14597</text>
<text x="9.2" y="545.8" font-size="9.9" fill="#000" stroke="#000" stroke-width="0.2" textLength="67.2" lengthAdjust="spacingAndGlyphs" xml:space="preserve">RSI(14) 72.4881</text>
<text x="9.2" y="639.8" font-size="9.9" fill="#000" stroke="#000" stroke-width="0.2" textLength="147.2" lengthAdjust="spacingAndGlyphs" xml:space="preserve">MACD(12,26,9) 0.006155 0.004977</text>
<text x="4.4" y="731.9" font-size="9.9" fill="#000" stroke="#000" stroke-width="0.2" textLength="46.1" lengthAdjust="spacingAndGlyphs" xml:space="preserve">18 Jul 2019</text>
<text x="68.4" y="731.9" font-size="9.9" fill="#000" stroke="#000" stroke-width="0.2" textLength="47.9" lengthAdjust="spacingAndGlyphs" xml:space="preserve">6 Aug 2019</text>
<text x="132.4" y="731.9" font-size="9.9" fill="#000" stroke="#000" stroke-width="0.2" textLength="53" lengthAdjust="spacingAndGlyphs" xml:space="preserve">24 Aug 2019</text>
<text x="196.4" y="731.9" font-size="9.9" fill="#000" stroke="#000" stroke-width="0.2" textLength="51.5" lengthAdjust="spacingAndGlyphs" xml:space="preserve">12 Sep 2019</text>
<text x="260.4" y="731.9" font-size="9.9" fill="#000" stroke="#000" stroke-width="0.2" textLength="45.3" lengthAdjust="spacingAndGlyphs" xml:space="preserve">1 Oct 2019</text>
<text x="324.4" y="731.9" font-size="9.9" fill="#000" stroke="#000" stroke-width="0.2" textLength="50.1" lengthAdjust="spacingAndGlyphs" xml:space="preserve">19 Oct 2019</text>
<text x="388.4" y="731.9" font-size="9.9" fill="#000" stroke="#000" stroke-width="0.2" textLength="48.5" lengthAdjust="spacingAndGlyphs" xml:space="preserve">7 Nov 2019</text>
<text x="452.4" y="731.9" font-size="9.9" fill="#000" stroke="#000" stroke-width="0.2" textLength="53.4" lengthAdjust="spacingAndGlyphs" xml:space="preserve">26 Nov 2019</text>
<text x="516.4" y="731.9" font-size="9.9" fill="#000" stroke="#000" stroke-width="0.2" textLength="51.3" lengthAdjust="spacingAndGlyphs" xml:space="preserve">14 Dec 2019</text>
<text x="580.4" y="731.9" font-size="9.9" fill="#000" stroke="#000" stroke-width="0.2" textLength="45" lengthAdjust="spacingAndGlyphs" xml:space="preserve">2 Jan 2020</text>
<text x="644.4" y="731.9" font-size="9.9" fill="#000" stroke="#000" stroke-width="0.2" textLength="49.5" lengthAdjust="spacingAndGlyphs" xml:space="preserve">21 Jan 2020</text>
<text x="708.4" y="731.9" font-size="9.9" fill="#000" stroke="#000" stroke-width="0.2" textLength="46.6" lengthAdjust="spacingAndGlyphs" xml:space="preserve">8 Feb 2020</text>
<text x="772.4" y="731.9" font-size="9.9" fill="#000" stroke="#000" stroke-width="0.2" textLength="51.6" lengthAdjust="spacingAndGlyphs" xml:space="preserve">27 Feb 2020</text>
<text x="836.4" y="731.9" font-size="9.9" fill="#000" stroke="#000" stroke-width="0.2" textLength="51.5" lengthAdjust="spacingAndGlyphs" xml:space="preserve">17 Mar 2020</text>
<text x="900.4" y="731.9" font-size="9.9" fill="#000" stroke="#000" stroke-width="0.2" textLength="45.6" lengthAdjust="spacingAndGlyphs" xml:space="preserve">4 Apr 2020</text>
<text x="964.4" y="731.9" font-size="9.9" fill="#000" stroke="#000" stroke-width="0.2" textLength="50.1" lengthAdjust="spacingAndGlyphs" xml:space="preserve">23 Apr 2020</text>
<text x="1028.4" y="731.9" font-size="9.9" fill="#000" stroke="#000" stroke-width="0.2" textLength="54.4" lengthAdjust="spacingAndGlyphs" xml:space="preserve">12 May 2020</text>
<text x="1092.4" y="731.9" font-size="9.9" fill="#000" stroke="#000" stroke-width="0.2" textLength="54.7" lengthAdjust="spacingAndGlyphs" xml:space="preserve">30 May 2020</text>
<text x="1156.4" y="731.9" font-size="9.9" fill="#000" stroke="#000" stroke-width="0.2" textLength="49.4" lengthAdjust="spacingAndGlyphs" xml:space="preserve">18 Jun 2020</text>
<text x="1220.4" y="731.9" font-size="9.9" fill="#000" stroke="#000" stroke-width="0.2" textLength="41" lengthAdjust="spacingAndGlyphs" xml:space="preserve">7 Jul 2020</text>
<text x="51" y="12.7" font-size="9.9" fill="#404040" text-anchor="middle" xml:space="preserve">M1</text>
<text x="78.7" y="12.7" font-size="9.9" fill="#404040" text-anchor="middle" xml:space="preserve">M5</text>
<text x="107" y="12.7" font-size="9.9" fill="#404040" text-anchor="middle" xml:space="preserve">M15</text>
<text x="135" y="12.7" font-size="9.9" fill="#404040" text-anchor="middle" xml:space="preserve">M30</text>
<text x="163.4" y="12.7" font-size="9.9" fill="#404040" text-anchor="middle" xml:space="preserve">H1</text>
<text x="190.5" y="12.7" font-size="9.9" fill="#404040" text-anchor="middle" xml:space="preserve">H4</text>
<text x="219.3" y="12.7" font-size="9.9" fill="#404040" text-anchor="middle" xml:space="preserve">D1</text>
<text x="248" y="12.7" font-size="9.9" fill="#404040" text-anchor="middle" xml:space="preserve">W1</text>
<text x="274.8" y="12.7" font-size="9.9" fill="#404040" text-anchor="middle" xml:space="preserve">MN</text>
<rect x="0" y="740" width="1638" height="1" fill="#e3e3e3"/>
<rect x="0" y="741" width="1638" height="1" fill="#fff"/>
<rect x="0" y="742" width="1638" height="20" fill="#f0f0f0"/>
<rect x="0" y="742" width="1638" height="1" fill="#000"/>
<rect x="0" y="743" width="2" height="19" fill="#808080"/><rect x="2" y="743" width="1" height="19" fill="#fff"/>
<rect x="7" y="741" width="102" height="19" fill="#fff"/>
<rect x="6" y="742" width="1" height="19" fill="#000"/><rect x="109" y="742" width="1" height="19" fill="#000"/><rect x="6" y="760" width="104" height="1" fill="#000"/>
<rect x="110" y="744" width="1" height="18" fill="#a0a0a0"/><rect x="8" y="761" width="103" height="1" fill="#a0a0a0"/>
<rect x="0" y="762" width="1638" height="3" fill="#f4f4f4"/>
<rect x="0" y="765" width="1638" height="2" fill="#b8b8b8"/>
<text x="18.6" y="756.4" font-size="11.3" fill="#000" stroke="#000" stroke-width="0.15" textLength="79.4" lengthAdjust="spacingAndGlyphs" xml:space="preserve">EURUSD,Daily</text>
<text x="120.5" y="756.4" font-size="11.3" fill="#6a6a6a" textLength="78.3" lengthAdjust="spacingAndGlyphs" xml:space="preserve">USDCHF,Daily</text>
<text x="221" y="756.4" font-size="11.3" fill="#6a6a6a" textLength="81.5" lengthAdjust="spacingAndGlyphs" xml:space="preserve">AUDUSD,Daily</text>
<text x="325" y="756.4" font-size="11.3" fill="#6a6a6a" textLength="80.5" lengthAdjust="spacingAndGlyphs" xml:space="preserve">USDCAD,Daily</text>
<text x="428" y="756.4" font-size="11.3" fill="#6a6a6a" textLength="82.5" lengthAdjust="spacingAndGlyphs" xml:space="preserve">USDCNH,Daily</text>
<text x="533" y="756.4" font-size="11.3" fill="#6a6a6a" textLength="77" lengthAdjust="spacingAndGlyphs" xml:space="preserve">EURUSD,M15</text>
<text x="633" y="756.4" font-size="11.3" fill="#6a6a6a" textLength="77.5" lengthAdjust="spacingAndGlyphs" xml:space="preserve">GBPUSD,M30</text>
<text x="732.5" y="756.4" font-size="11.3" fill="#6a6a6a" textLength="81.5" lengthAdjust="spacingAndGlyphs" xml:space="preserve">XAUUSD,Daily</text>
<text x="837" y="756.4" font-size="11.3" fill="#6a6a6a" textLength="49" lengthAdjust="spacingAndGlyphs" xml:space="preserve">HK50,H1</text>
<text x="909.5" y="756.4" font-size="11.3" fill="#6a6a6a" textLength="56.0" lengthAdjust="spacingAndGlyphs" xml:space="preserve">UK100,H1</text>
<text x="989" y="756.4" font-size="11.3" fill="#6a6a6a" textLength="56.5" lengthAdjust="spacingAndGlyphs" xml:space="preserve">UK100,H1</text>
<text x="1069" y="756.4" font-size="11.3" fill="#6a6a6a" textLength="56" lengthAdjust="spacingAndGlyphs" xml:space="preserve">GER30,H1</text>
<text x="1148" y="756.4" font-size="11.3" fill="#6a6a6a" textLength="54" lengthAdjust="spacingAndGlyphs" xml:space="preserve">FRA40,H1</text>
<text x="1224" y="756.4" font-size="11.3" fill="#6a6a6a" textLength="62.5" lengthAdjust="spacingAndGlyphs" xml:space="preserve">USOil,Daily</text>
<text x="1308" y="756.4" font-size="11.3" fill="#6a6a6a" textLength="62.5" lengthAdjust="spacingAndGlyphs" xml:space="preserve">USDJPY,H1</text>
<text x="1393" y="756.4" font-size="11.3" fill="#6a6a6a" textLength="56" lengthAdjust="spacingAndGlyphs" xml:space="preserve">DJ30,M15</text>
<text x="1472" y="756.4" font-size="11.3" fill="#6a6a6a" textLength="78.5" lengthAdjust="spacingAndGlyphs" xml:space="preserve">CHINA300,H4</text>
<rect x="210" y="746" width="1" height="13" fill="#5a5a5a"/>
<rect x="314" y="746" width="1" height="13" fill="#5a5a5a"/>
<rect x="418" y="746" width="1" height="13" fill="#5a5a5a"/>
<rect x="522" y="746" width="1" height="13" fill="#5a5a5a"/>
<rect x="622" y="746" width="1" height="13" fill="#5a5a5a"/>
<rect x="722" y="746" width="1" height="13" fill="#5a5a5a"/>
<rect x="826" y="746" width="1" height="13" fill="#5a5a5a"/>
<rect x="898" y="746" width="1" height="13" fill="#5a5a5a"/>
<rect x="978" y="746" width="1" height="13" fill="#5a5a5a"/>
<rect x="1058" y="746" width="1" height="13" fill="#5a5a5a"/>
<rect x="1138" y="746" width="1" height="13" fill="#5a5a5a"/>
<rect x="1214" y="746" width="1" height="13" fill="#5a5a5a"/>
<rect x="1298" y="746" width="1" height="13" fill="#5a5a5a"/>
<rect x="1382" y="746" width="1" height="13" fill="#5a5a5a"/>
<rect x="1462" y="746" width="1" height="13" fill="#5a5a5a"/>
<rect x="1562" y="746" width="1" height="13" fill="#5a5a5a"/>
<path d="M1612 750.7l3.2-3v6z M1634.5 750.7l-3.2-3v6z" fill="#808080" shape-rendering="auto"/>
</svg>
</body></html>
